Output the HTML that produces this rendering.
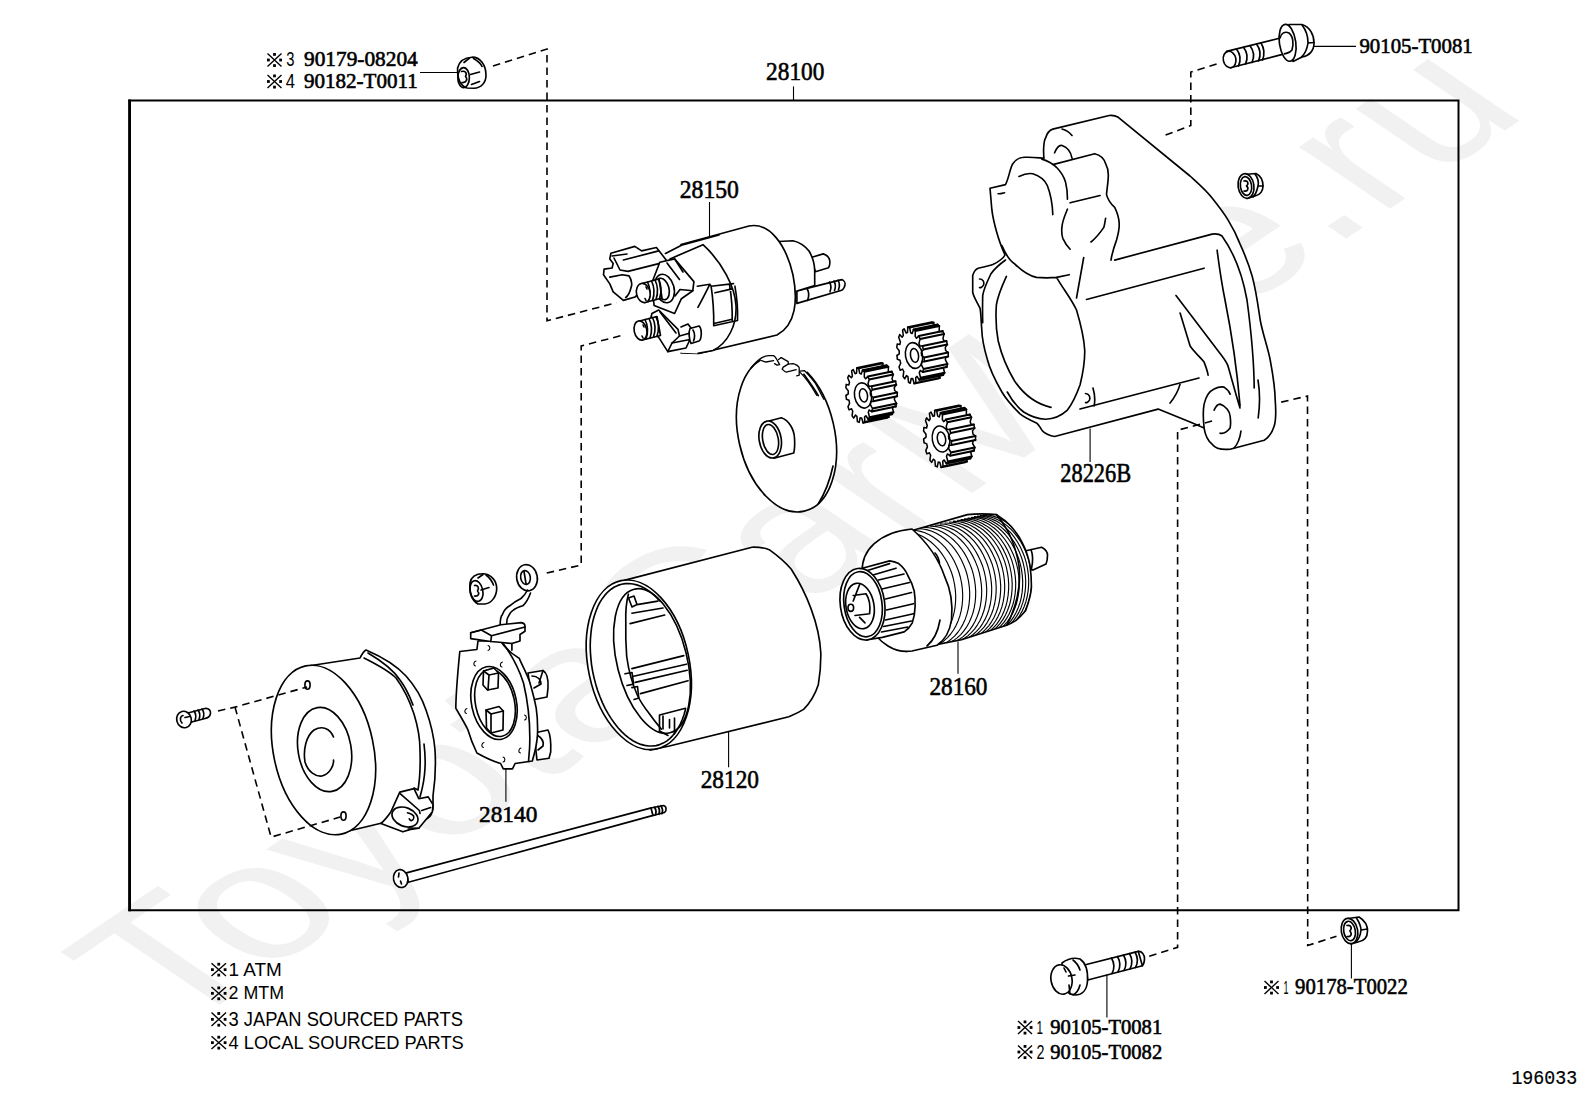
<!DOCTYPE html>
<html><head><meta charset="utf-8"><style>
html,body{margin:0;padding:0;background:#fff;width:1592px;height:1099px;overflow:hidden}
svg{display:block}
.l{fill:none;stroke:#000;stroke-width:1.65;stroke-linejoin:round;stroke-linecap:round}
.w{fill:#fff;stroke:#000;stroke-width:1.65;stroke-linejoin:round;stroke-linecap:round}
.d{fill:none;stroke:#000;stroke-width:1.6;stroke-dasharray:7.5 5}
.t{fill:none;stroke:#000;stroke-width:1.1}
</style></head><body>
<svg width="1592" height="1099" viewBox="0 0 1592 1099">
<text x="0" y="0" transform="translate(175,1035) scale(1,0.68) rotate(-45)" font-family="Liberation Sans" font-size="243" fill="#f1f1f1">ToyotaCarMine.ru</text>
<path d="M129.6 99.5V911.3M128.3 100.5H1458.5V910.3H128.3" fill="none" stroke="#000" stroke-width="2"/><path d="M129.6 99.5V911.3" stroke="#000" stroke-width="2.8"/>
<!-- 10_fasteners.svg -->
<g id="fasteners">
<!-- top-left nut -->
<path class="w" d="M457.6 68 C459 62 464 57.6 472 57.2 C480 57 486 65 486 75 C486 83 481 88 474 88.2 L467 88 C461 86 457.2 79 457.6 68Z"/>
<ellipse class="l" cx="463.6" cy="77.6" rx="5.8" ry="10"/>
<path class="l" d="M461.5 71.5 C465 70.5 467.5 73 465.5 76.5 C468 79 466.5 83 462 82.5 M470.5 74.5 L479.5 72 M464 62.5 L469.5 58 M473.5 58.5 C478 61 480.5 63 482 66.5 M471.5 84.5 L479.5 81.5"/>
<!-- top-right bolt -->
<path class="w" d="M1226.6 51.4 L1279.4 38.2 L1284.4 53.9 L1230.4 67.7 Z"/>
<ellipse class="w" cx="1229.6" cy="59.5" rx="6.3" ry="8.3" transform="rotate(-12 1229.6 59.5)"/>
<path class="l" d="M1236.5 49 Q1242.5 57 1238.5 66 M1243.5 47.3 Q1249.5 55 1245.5 64 M1250 45.7 Q1256 53.5 1252 62.5 M1256.5 44 Q1262.5 52 1258.5 61 M1261 43 Q1266 51 1262.5 60"/>
<path class="w" d="M1289 24.5 L1302 24.5 C1310 27 1314 35 1314 43 C1314 51 1309 56 1302 57 L1293 61.5 Z"/>
<ellipse class="w" cx="1287.6" cy="42.8" rx="8.2" ry="18.6" transform="rotate(-8 1287.6 42.8)"/>
<path class="l" d="M1280 38 C1281 33 1285 31 1289 33 C1293 36 1294 44 1292 50 C1290 53 1287 53 1284.4 53.9 M1302 25 C1306 30 1308 36 1308 43 L1314 42.5 M1308 43 C1307 50 1305 54 1301 57.5"/>
<!-- housing small nut -->
<path class="w" d="M1244 174.5 L1256 173.5 C1261 176 1263 181 1263 186 C1263 191 1260 195 1255 196 L1247 198.5 Z"/>
<ellipse class="w" cx="1246" cy="186" rx="7.9" ry="12.4" transform="rotate(-8 1246 186)"/>
<ellipse class="l" cx="1246" cy="186" rx="5.6" ry="9.4" transform="rotate(-8 1246 186)"/>
<path class="l" d="M1244 181 C1248 180 1249 184 1246.5 186 C1249 188 1248 192 1244 191 M1255 174 C1258 178 1259 182 1258 186 L1263 186 M1258 186 C1257 191 1256 194 1253 197"/>
<!-- brush-holder nut -->
<path class="w" d="M470 583 C471 577 476 573.7 483 573.7 C490 573.7 496.5 580 496.7 588 C496.8 596 492 603 485 604 L478 604 C473 601 469 594 470 583Z"/>
<ellipse class="l" cx="476.5" cy="591" rx="6.3" ry="10.5" transform="rotate(-12 476.5 591)"/>
<path class="l" d="M474.5 585.5 C478 585 479.5 588 477.5 591 C480 593.5 478.5 596.5 474.5 596 M481 590 L489 587.5 M478 578 L483 574.5 M486 575 C490 578 492 581 493.5 585"/>
<!-- ring terminal -->
<ellipse class="w" cx="527" cy="577.7" rx="10.3" ry="13.2" transform="rotate(-10 527 577.7)"/>
<ellipse class="l" cx="525.5" cy="577.5" rx="4.8" ry="7" transform="rotate(-10 525.5 577.5)"/>
<path class="l" d="M524 571.5 L526 583.5"/>
<!-- bottom bolt -->
<path class="w" d="M1084.4 965 L1138.3 951.4 L1142.4 965.7 L1087.8 980 Z"/>
<path class="l" d="M1111.5 958 Q1116 966 1112 973.5 M1117.5 956.5 Q1122 964.5 1118 972 M1123.5 955 Q1128 963 1124 970.5 M1129.5 953.5 Q1134 961.5 1130 969 M1135 952 Q1139.5 960 1135.5 967.5"/>
<path class="l" d="M1138.3 951.4 C1142 951 1144.5 955 1144.5 958.5 C1144.5 962 1143.5 964.5 1142.4 965.7"/>
<path class="w" d="M1062 963 C1068 958.5 1075 957.5 1080 959 C1086 963 1088 972 1087.5 981 C1087 989 1083 995 1075 995 C1069 995 1064 990 1062 985 Z"/>
<ellipse class="w" cx="1061.5" cy="979.5" rx="10.5" ry="14.8" transform="rotate(-10 1061.5 979.5)"/>
<path class="l" d="M1064 968 L1066 972 M1068.5 976 L1075 975 M1069 985 L1070 994 M1073 960 C1077 963 1079 967 1080 970 M1080 985 C1079 989 1077 993 1073 995"/>
<!-- bottom-right nut -->
<path class="w" d="M1348 918.5 L1359 917 C1364 920 1367.5 925 1367.5 931 C1367.5 937 1364 941 1358 942 L1351 944 Z"/>
<ellipse class="w" cx="1349.5" cy="931" rx="8.2" ry="12.8" transform="rotate(-10 1349.5 931)"/>
<ellipse class="l" cx="1349.5" cy="931" rx="5.8" ry="9.8" transform="rotate(-10 1349.5 931)"/>
<path class="l" d="M1347 925.5 C1351 924.5 1352.5 928.5 1349.8 931 C1352.5 933.5 1351 937.5 1347 936.5 M1356.5 918 C1359 922 1361 926 1361 930 L1367.5 929 M1361 930 C1360.5 935 1359 939 1356 942"/>
<!-- end-frame screw -->
<path class="w" d="M186 713.5 L205 708.5 C209 708 211 711 210.5 713.5 C210 716 208 718 205 718.5 L188 723 Z"/>
<path class="l" d="M194 711 Q197 715 195 720.5 M198 710 Q201 714 199 719.5 M202 709 Q205 713 203 718.5"/>
<ellipse class="w" cx="184" cy="719.5" rx="7.3" ry="8.3" transform="rotate(-15 184 719.5)"/>
<path class="l" d="M183 715.5 C180 716 179.5 721 182 723 M185 717.5 L189.5 716.5"/>
<!-- through bolt -->
<path class="w" d="M406.4 872.9 L651.3 807.9 L653.2 815.4 L408.3 882.3 Z"/>
<path class="w" d="M651 808 L663.5 805.5 C666.5 806 667 811 664.5 812.5 L653 815.5 Z"/>
<path class="l" d="M654.5 807 Q657 811 655.5 815 M658 806.3 Q660.5 810.3 659 814.3 M661 805.7 Q663.5 809.7 662 813.7"/>
<ellipse class="w" cx="400.7" cy="878.6" rx="7.2" ry="9" transform="rotate(-12 400.7 878.6)"/>
<path class="l" d="M399 873 L398.5 877 M400.5 881 L401.5 884"/>
</g>

<!-- 20_solenoid.svg -->
<g id="solenoid">
<!-- rod -->
<path class="w" d="M796.9 290.9 L841.7 279.6 C844 280.5 845.5 283 845 284.9 C844.5 287.5 843 289.5 841.7 290.2 L796.9 303.4 Z"/>
<path class="l" d="M829.5 282 Q832 286.5 830 291.8 M834 281 Q836.5 285.5 834.5 290.5 M838 280.2 Q840.5 284.7 838.5 289.7 M807 288.5 C809 292 809 297 807.5 300.5"/>
<!-- stud -->
<path class="w" d="M811 257.5 L823.2 253.9 C827 255 829.5 258 829.8 261.2 C830 264 829.5 266.5 828.5 267.8 L815.3 271.7 Z"/>
<!-- rear small cylinder -->
<path class="w" d="M779 241.5 L792.9 240.7 C799 242 805 246 809 251 C812 256 814.5 264 814.7 270.4 L814.7 285.5 L797 291 L779 292 Z"/>
<!-- main body -->
<path class="w" d="M681 244.5 L749 226 C769 222 786 244 793 275 C798 300 796 325 777 335 L699 353.5 L681 353 Z"/>
<!-- front cap silhouette -->
<path class="w" d="M665 253.5 L681.5 245.5 L703 244.5 C722 262 735 287 736 305.5 C737 325 728 343 712 350.5 L697.5 353.5 L666 352 Z" style="stroke:none"/>
<path class="l" d="M665.5 253.5 L681.5 245.2 L719 235 M670 258.9 L703 244.7 C722 262 735 287 736 305.5 C737 325 728 343 713 350.5 L698 353.3"/>
<!-- bracket band -->
<path class="l" d="M697.3 286.2 L709.8 284.3 L711.1 286.2 L733.5 283.6 M711.1 286.2 C713 299 714 312 713.7 325.8 L737.5 320.5 M729.6 285 C731.5 297 732.5 309 732.2 320.5 M734.9 286.2 C737 298 738 309 737.5 320.5 M715 292.8 L732.2 288.9 M715 323.2 L732.2 319.2 M709.8 284.3 C706 292 702 300 697.9 307.3"/>
<!-- connector block -->
<path class="w" d="M610.9 253.2 L634.8 246.4 L641.6 250.9 L656.4 247.5 L664.4 257.7 L670 265 L652 283 L635 297 L623.4 300.4 L613.2 291.9 L609.8 283.9 L603.5 274.8 L604.1 269.1 L612.1 268 L613.2 263.4 L609.8 258.9 Z"/>
<path class="l" d="M623.4 260 L658.7 250.9 M628 271.4 L659.8 263.4 M609.8 277.1 L622.3 274.8 L629.1 275.9 C632 280 632 286 631.4 286.2 C630 292 628 296 625.7 297.5 M614 258 L620 270 L628 271.4 M612 256 L627 254"/>
<!-- upper hex nut & washer -->
<path class="w" d="M659.8 262.3 L674.6 258.9 L693.9 281.6 L692.8 290.7 L681.4 298.7 L674.6 313.5 L654.1 305.5 L651.9 282.8 Z"/>
<path class="l" d="M667 263 L679.5 279.5 M674.6 258.9 L683 272 M692.8 290.7 L680 289.5 L675 296"/>
<ellipse class="w" cx="664.5" cy="288.5" rx="9.5" ry="14.5" transform="rotate(-15 664.5 288.5)"/>
<ellipse class="l" cx="662.5" cy="289" rx="6.5" ry="11" transform="rotate(-15 662.5 289)"/>
<!-- upper stud -->
<path class="w" d="M642 283.5 L659 279 L662 298 L645 302.5 Z"/>
<path class="l" d="M651.5 281 Q656 290 652.5 300.5 M655 280 Q659.5 289 656 299.5 M658.5 279.2 Q663 288.2 659.5 298.7 M647.5 282 Q652 291 648.5 301.5"/>
<ellipse class="w" cx="643.3" cy="293" rx="6.8" ry="9.7" transform="rotate(-12 643.3 293)"/>
<path class="l" d="M646 287 L647 289 M645 298.5 L646 300.5"/>
<!-- lower hex nut -->
<path class="w" d="M651.9 313.5 L658.7 310 L678 329.4 L679.5 336 L672 343 L667.8 351.6 L658.7 337.4 L649 326 Z"/>
<path class="l" d="M660 312 L676 333 M667.8 351.6 L686 348 M672 343 L690 339.5 M679.5 336 L694 332 M686 348 L690 339.5 L694 332 L688 324 L681 327"/>
<path class="w" d="M690 328.5 L699 326 C702 328 702 339 699 341 L691 343.5 C689 339 688.5 332 690 328.5 Z"/>
<path class="l" d="M693 330 C695 333 695 338 693.5 341"/>
<!-- lower stud -->
<path class="w" d="M639.5 321 L657 316.5 L660.5 335.5 L642.5 340 Z"/>
<path class="l" d="M649 318.5 Q653.5 327.5 650 338 M652.5 317.5 Q657 326.5 653.5 337 M656 316.8 Q660.5 325.8 657 336.3 M645 319.5 Q649.5 328.5 646 339"/>
<ellipse class="w" cx="640.5" cy="330.5" rx="6.3" ry="9.7" transform="rotate(-12 640.5 330.5)"/>
<path class="l" d="M643 325 L644 327 M642 336 L643 338"/>
</g>

<!-- 30_disc.svg -->
<g id="disc">
<ellipse class="w" cx="786.5" cy="434.2" rx="48" ry="79" transform="rotate(-13 786.5 434.2)"/>
<path class="l" d="M801.5 371 C808 380 814 388 818.3 395.7 M833 466 C830 480 825 493 818.3 503.8"/>
<path fill="#fff" d="M756 350 L808 350 L808 371 L799.5 376 L796.5 370 L786 373 L781.5 369 L783 366.5 L788.5 364.3 L788.5 361.5 L781 357 L778.5 359.5 L780 365 L774.5 364 L773.6 361 L766 362.5 L760 360.5 Z"/>
<path class="l" style="stroke-width:1.3" d="M751 367.8 C755 363 758 360 762 357.6 C765 356 767 355.6 768.6 355.6 L773.6 355.6 C776 357 777 360 778 361.6 L779.6 364.6 L777 365.1 L774.6 363.6
M760 360 C763 361 765 362 766 362 L773.6 360.6
M778.6 359.6 L781.2 357.6 L788.2 361.6 L788.2 364.1 L783.2 367.1 L782.2 369.1 C784 371 785 372 786.2 372.1 L790.2 371.1 L796.2 369.6
M788.2 364.1 L793.2 363.6 C795 364 796 365 796.7 365.1 C798 366 799 367 799.2 367.6 L799.2 375.2 L796.7 375.9
M800.3 371.1 L804.3 370.6 C808 374 812 379 815.3 383.2 C818 388 821 394 823.9 399.3
M800.3 372.6 C806 378 812 387 816.8 395.3"/>
<!-- bushing -->
<path class="w" d="M769 421 L781.4 417.8 C788 420 794 428 794.5 438 C795 446 794.5 450 793.7 453 L774 458.2 Z"/>
<ellipse class="w" cx="770.2" cy="439.5" rx="11" ry="18.7" transform="rotate(-10 770.2 439.5)"/>
<ellipse class="l" cx="770.5" cy="439.5" rx="7.8" ry="15.2" transform="rotate(-10 770.5 439.5)"/>
</g>

<!-- 35_gears.svg -->
<g id="gears">
<path class="w" style="stroke-width:1.55" d="M894.5 389.3 L894.6 390.5 L897.2 392.5 L897.2 396.2 L894.7 396.8 L894.5 398.6 L894.4 399.6 L896.5 403.5 L895.8 406.6 L893.1 405.0 L892.6 406.4 L892.3 407.2 L893.5 412.2 L892.2 414.2 L889.9 410.7 L889.1 411.5 L888.6 411.8 L888.8 417.1 L887.1 417.7 L885.6 412.9 L884.7 412.9 L884.1 412.8 L883.2 417.4 L881.4 416.6 L880.9 411.3 L880.0 410.5 L879.5 410.0 L877.7 413.1 L876.1 410.9 L876.7 406.0 L876.0 404.6 L875.6 403.7 L873.1 404.9 L872.0 401.7 L873.6 398.1 L873.2 396.3 L873.0 395.2 L870.4 394.2 L869.9 390.5 L872.3 388.8 L872.2 387.0 L872.3 385.9 L869.9 382.8 L870.2 379.4 L872.9 379.9 L873.2 378.3 L873.5 377.3 L871.7 372.8 L872.8 370.2 L875.3 372.7 L876.0 371.7 L876.4 371.1 L875.6 365.8 L877.2 364.5 L879.1 368.7 L880.0 368.3 L880.5 368.2 L880.9 363.1 L882.7 363.3 L883.7 368.4 L884.7 368.8 L885.2 369.1 L886.6 365.2 L888.4 366.8 L888.3 371.9 L889.1 373.1 L889.6 373.8 L891.8 371.6 L893.2 374.4 L892.0 378.7 L892.6 380.3 L892.9 381.3 L895.5 381.2 L896.3 384.8 L894.3 387.5Z"/>
<path fill="#fff" d="M892.8 389.7 L892.9 390.8 L895.5 392.9 L895.5 396.5 L893.0 397.1 L892.8 398.9 L892.7 400.0 L894.8 403.8 L894.0 406.9 L891.4 405.4 L890.9 406.7 L890.6 407.5 L891.8 412.5 L890.5 414.6 L888.2 411.1 L887.4 411.8 L886.9 412.2 L887.1 417.5 L885.4 418.1 L883.9 413.3 L883.0 413.3 L882.4 413.2 L881.5 417.8 L879.7 416.9 L879.2 411.6 L878.3 410.9 L877.8 410.3 L876.0 413.5 L874.3 411.2 L875.0 406.4 L874.3 405.0 L873.9 404.1 L871.4 405.3 L870.3 402.0 L871.9 398.4 L871.5 396.7 L871.3 395.6 L868.6 394.6 L868.2 390.9 L870.6 389.2 L870.5 387.3 L870.5 386.2 L868.2 383.2 L868.5 379.8 L871.1 380.2 L871.5 378.6 L871.7 377.7 L870.0 373.2 L871.1 370.5 L873.6 373.1 L874.2 372.0 L874.7 371.4 L873.9 366.2 L875.5 364.8 L877.4 369.0 L878.3 368.7 L878.8 368.5 L879.2 363.5 L881.0 363.6 L882.0 368.8 L882.9 369.2 L883.5 369.5 L884.9 365.5 L886.7 367.1 L886.6 372.3 L887.4 373.4 L887.9 374.1 L890.1 371.9 L891.5 374.7 L890.3 379.0 L890.9 380.7 L891.2 381.7 L893.8 381.6 L894.6 385.1 L892.6 387.8Z"/>
<path fill="#fff" d="M891.1 390.1 L891.2 391.2 L893.8 393.2 L893.8 396.9 L891.2 397.5 L891.1 399.3 L891.0 400.3 L893.0 404.2 L892.3 407.3 L889.7 405.7 L889.2 407.1 L888.8 407.9 L890.1 412.9 L888.8 414.9 L886.5 411.4 L885.7 412.2 L885.2 412.6 L885.4 417.8 L883.7 418.4 L882.2 413.7 L881.3 413.6 L880.7 413.6 L879.8 418.2 L878.0 417.3 L877.5 412.0 L876.6 411.2 L876.1 410.7 L874.2 413.9 L872.6 411.6 L873.3 406.7 L872.6 405.3 L872.1 404.4 L869.7 405.6 L868.6 402.4 L870.2 398.8 L869.8 397.0 L869.6 395.9 L866.9 394.9 L866.5 391.2 L868.9 389.6 L868.8 387.7 L868.8 386.6 L866.4 383.6 L866.8 380.1 L869.4 380.6 L869.8 379.0 L870.0 378.0 L868.3 373.5 L869.4 370.9 L871.9 373.5 L872.5 372.4 L873.0 371.8 L872.2 366.5 L873.8 365.2 L875.7 369.4 L876.6 369.0 L877.1 368.9 L877.5 363.8 L879.3 364.0 L880.3 369.1 L881.2 369.5 L881.8 369.8 L883.2 365.9 L884.9 367.5 L884.9 372.7 L885.7 373.8 L886.2 374.5 L888.4 372.3 L889.7 375.1 L888.6 379.4 L889.2 381.0 L889.5 382.1 L892.1 382.0 L892.9 385.5 L890.8 388.2Z"/>
<path fill="#fff" d="M889.4 390.4 L889.5 391.5 L892.0 393.6 L892.1 397.2 L889.5 397.9 L889.4 399.6 L889.2 400.7 L891.3 404.5 L890.6 407.6 L888.0 406.1 L887.5 407.5 L887.1 408.2 L888.4 413.2 L887.0 415.3 L884.8 411.8 L884.0 412.5 L883.5 412.9 L883.7 418.2 L882.0 418.8 L880.5 414.0 L879.6 414.0 L879.0 413.9 L878.1 418.5 L876.3 417.6 L875.8 412.4 L874.9 411.6 L874.4 411.0 L872.5 414.2 L870.9 411.9 L871.6 407.1 L870.8 405.7 L870.4 404.8 L868.0 406.0 L866.9 402.7 L868.5 399.2 L868.1 397.4 L867.9 396.3 L865.2 395.3 L864.8 391.6 L867.1 389.9 L867.1 388.0 L867.1 386.9 L864.7 383.9 L865.1 380.5 L867.7 380.9 L868.1 379.3 L868.3 378.4 L866.6 373.9 L867.7 371.2 L870.1 373.8 L870.8 372.7 L871.2 372.1 L870.5 366.9 L872.1 365.5 L874.0 369.8 L874.9 369.4 L875.4 369.2 L875.8 364.2 L877.6 364.3 L878.6 369.5 L879.5 369.9 L880.1 370.2 L881.5 366.2 L883.2 367.8 L883.1 373.0 L884.0 374.1 L884.5 374.9 L886.6 372.6 L888.0 375.4 L886.9 379.8 L887.5 381.4 L887.8 382.4 L890.4 382.3 L891.2 385.8 L889.1 388.5Z"/>
<path fill="#fff" d="M887.7 390.8 L887.8 391.9 L890.3 394.0 L890.4 397.6 L887.8 398.2 L887.7 400.0 L887.5 401.0 L889.6 404.9 L888.9 408.0 L886.3 406.4 L885.8 407.8 L885.4 408.6 L886.7 413.6 L885.3 415.6 L883.1 412.2 L882.3 412.9 L881.8 413.3 L882.0 418.5 L880.2 419.2 L878.8 414.4 L877.8 414.4 L877.3 414.3 L876.4 418.9 L874.5 418.0 L874.1 412.7 L873.2 411.9 L872.6 411.4 L870.8 414.6 L869.2 412.3 L869.8 407.5 L869.1 406.0 L868.7 405.2 L866.3 406.3 L865.2 403.1 L866.8 399.5 L866.4 397.7 L866.1 396.6 L863.5 395.6 L863.1 392.0 L865.4 390.3 L865.4 388.4 L865.4 387.3 L863.0 384.3 L863.4 380.8 L866.0 381.3 L866.4 379.7 L866.6 378.8 L864.9 374.2 L865.9 371.6 L868.4 374.2 L869.1 373.1 L869.5 372.5 L868.8 367.3 L870.4 365.9 L872.3 370.1 L873.1 369.7 L873.7 369.6 L874.1 364.6 L875.9 364.7 L876.9 369.8 L877.8 370.2 L878.4 370.6 L879.8 366.6 L881.5 368.2 L881.4 373.4 L882.3 374.5 L882.7 375.2 L884.9 373.0 L886.3 375.8 L885.2 380.1 L885.7 381.7 L886.1 382.8 L888.7 382.7 L889.4 386.2 L887.4 388.9Z"/>
<path fill="#fff" d="M885.9 391.1 L886.0 392.3 L888.6 394.3 L888.6 397.9 L886.1 398.6 L885.9 400.4 L885.8 401.4 L887.9 405.2 L887.2 408.4 L884.6 406.8 L884.0 408.2 L883.7 409.0 L885.0 413.9 L883.6 416.0 L881.4 412.5 L880.6 413.3 L880.1 413.6 L880.3 418.9 L878.5 419.5 L877.1 414.7 L876.1 414.7 L875.6 414.6 L874.7 419.2 L872.8 418.3 L872.4 413.1 L871.5 412.3 L870.9 411.7 L869.1 414.9 L867.5 412.7 L868.1 407.8 L867.4 406.4 L867.0 405.5 L864.5 406.7 L863.4 403.5 L865.1 399.9 L864.6 398.1 L864.4 397.0 L861.8 396.0 L861.4 392.3 L863.7 390.6 L863.7 388.8 L863.7 387.6 L861.3 384.6 L861.7 381.2 L864.3 381.7 L864.6 380.0 L864.9 379.1 L863.2 374.6 L864.2 372.0 L866.7 374.5 L867.4 373.4 L867.8 372.9 L867.1 367.6 L868.7 366.3 L870.6 370.5 L871.4 370.1 L872.0 370.0 L872.3 364.9 L874.2 365.0 L875.1 370.2 L876.1 370.6 L876.7 370.9 L878.0 366.9 L879.8 368.6 L879.7 373.7 L880.5 374.8 L881.0 375.6 L883.2 373.3 L884.6 376.2 L883.4 380.5 L884.0 382.1 L884.3 383.1 L887.0 383.0 L887.7 386.6 L885.7 389.3Z"/>
<path fill="#fff" d="M884.2 391.5 L884.3 392.6 L886.9 394.7 L886.9 398.3 L884.4 398.9 L884.2 400.7 L884.1 401.8 L886.2 405.6 L885.5 408.7 L882.9 407.2 L882.3 408.5 L882.0 409.3 L883.2 414.3 L881.9 416.3 L879.7 412.9 L878.9 413.6 L878.4 414.0 L878.6 419.2 L876.8 419.9 L875.3 415.1 L874.4 415.1 L873.8 415.0 L872.9 419.6 L871.1 418.7 L870.7 413.4 L869.8 412.6 L869.2 412.1 L867.4 415.3 L865.8 413.0 L866.4 408.2 L865.7 406.8 L865.3 405.9 L862.8 407.1 L861.7 403.8 L863.4 400.2 L862.9 398.4 L862.7 397.3 L860.1 396.3 L859.7 392.7 L862.0 391.0 L862.0 389.1 L862.0 388.0 L859.6 385.0 L859.9 381.5 L862.6 382.0 L862.9 380.4 L863.2 379.5 L861.5 374.9 L862.5 372.3 L865.0 374.9 L865.7 373.8 L866.1 373.2 L865.4 368.0 L866.9 366.6 L868.8 370.8 L869.7 370.5 L870.3 370.3 L870.6 365.3 L872.4 365.4 L873.4 370.5 L874.4 371.0 L874.9 371.3 L876.3 367.3 L878.1 368.9 L878.0 374.1 L878.8 375.2 L879.3 375.9 L881.5 373.7 L882.9 376.5 L881.7 380.8 L882.3 382.5 L882.6 383.5 L885.2 383.4 L886.0 386.9 L884.0 389.6Z"/>
<path fill="#fff" d="M882.5 391.8 L882.6 393.0 L885.2 395.0 L885.2 398.7 L882.7 399.3 L882.5 401.1 L882.4 402.1 L884.5 406.0 L883.8 409.1 L881.1 407.5 L880.6 408.9 L880.3 409.7 L881.5 414.7 L880.2 416.7 L877.9 413.2 L877.1 414.0 L876.6 414.3 L876.8 419.6 L875.1 420.2 L873.6 415.4 L872.7 415.4 L872.1 415.3 L871.2 419.9 L869.4 419.1 L868.9 413.8 L868.0 413.0 L867.5 412.5 L865.7 415.6 L864.1 413.4 L864.7 408.5 L864.0 407.1 L863.6 406.2 L861.1 407.4 L860.0 404.2 L861.6 400.6 L861.2 398.8 L861.0 397.7 L858.4 396.7 L857.9 393.0 L860.3 391.3 L860.2 389.5 L860.3 388.4 L857.9 385.3 L858.2 381.9 L860.9 382.4 L861.2 380.8 L861.5 379.8 L859.7 375.3 L860.8 372.7 L863.3 375.2 L864.0 374.2 L864.4 373.6 L863.6 368.3 L865.2 367.0 L867.1 371.2 L868.0 370.8 L868.5 370.7 L868.9 365.6 L870.7 365.8 L871.7 370.9 L872.7 371.3 L873.2 371.6 L874.6 367.7 L876.4 369.3 L876.3 374.4 L877.1 375.6 L877.6 376.3 L879.8 374.1 L881.2 376.9 L880.0 381.2 L880.6 382.8 L880.9 383.8 L883.5 383.7 L884.3 387.3 L882.3 390.0Z"/>
<path fill="#fff" d="M880.8 392.2 L880.9 393.3 L883.5 395.4 L883.5 399.0 L881.0 399.6 L880.8 401.4 L880.7 402.5 L882.8 406.3 L882.0 409.4 L879.4 407.9 L878.9 409.2 L878.6 410.0 L879.8 415.0 L878.5 417.1 L876.2 413.6 L875.4 414.3 L874.9 414.7 L875.1 420.0 L873.4 420.6 L871.9 415.8 L871.0 415.8 L870.4 415.7 L869.5 420.3 L867.7 419.4 L867.2 414.1 L866.3 413.4 L865.8 412.8 L864.0 416.0 L862.3 413.7 L863.0 408.9 L862.3 407.5 L861.9 406.6 L859.4 407.8 L858.3 404.5 L859.9 400.9 L859.5 399.2 L859.3 398.1 L856.6 397.1 L856.2 393.4 L858.6 391.7 L858.5 389.8 L858.5 388.7 L856.2 385.7 L856.5 382.3 L859.1 382.7 L859.5 381.1 L859.7 380.2 L858.0 375.7 L859.1 373.0 L861.6 375.6 L862.2 374.5 L862.7 373.9 L861.9 368.7 L863.5 367.3 L865.4 371.5 L866.3 371.2 L866.8 371.0 L867.2 366.0 L869.0 366.1 L870.0 371.3 L870.9 371.7 L871.5 372.0 L872.9 368.0 L874.7 369.6 L874.6 374.8 L875.4 375.9 L875.9 376.6 L878.1 374.4 L879.5 377.2 L878.3 381.5 L878.9 383.2 L879.2 384.2 L881.8 384.1 L882.6 387.6 L880.6 390.3Z"/>
<path fill="#fff" d="M879.1 392.6 L879.2 393.7 L881.8 395.7 L881.8 399.4 L879.2 400.0 L879.1 401.8 L879.0 402.8 L881.0 406.7 L880.3 409.8 L877.7 408.2 L877.2 409.6 L876.8 410.4 L878.1 415.4 L876.8 417.4 L874.5 413.9 L873.7 414.7 L873.2 415.1 L873.4 420.3 L871.7 420.9 L870.2 416.2 L869.3 416.1 L868.7 416.1 L867.8 420.7 L866.0 419.8 L865.5 414.5 L864.6 413.7 L864.1 413.2 L862.2 416.4 L860.6 414.1 L861.3 409.2 L860.6 407.8 L860.1 406.9 L857.7 408.1 L856.6 404.9 L858.2 401.3 L857.8 399.5 L857.6 398.4 L854.9 397.4 L854.5 393.7 L856.9 392.1 L856.8 390.2 L856.8 389.1 L854.4 386.1 L854.8 382.6 L857.4 383.1 L857.8 381.5 L858.0 380.5 L856.3 376.0 L857.4 373.4 L859.9 376.0 L860.5 374.9 L861.0 374.3 L860.2 369.0 L861.8 367.7 L863.7 371.9 L864.6 371.5 L865.1 371.4 L865.5 366.3 L867.3 366.5 L868.3 371.6 L869.2 372.0 L869.8 372.3 L871.2 368.4 L872.9 370.0 L872.9 375.2 L873.7 376.3 L874.2 377.0 L876.4 374.8 L877.7 377.6 L876.6 381.9 L877.2 383.5 L877.5 384.6 L880.1 384.5 L880.9 388.0 L878.8 390.7Z"/>
<path fill="#fff" d="M877.4 392.9 L877.5 394.0 L880.0 396.1 L880.1 399.7 L877.5 400.4 L877.4 402.1 L877.2 403.2 L879.3 407.0 L878.6 410.1 L876.0 408.6 L875.5 410.0 L875.1 410.7 L876.4 415.7 L875.0 417.8 L872.8 414.3 L872.0 415.0 L871.5 415.4 L871.7 420.7 L870.0 421.3 L868.5 416.5 L867.6 416.5 L867.0 416.4 L866.1 421.0 L864.3 420.1 L863.8 414.9 L862.9 414.1 L862.4 413.5 L860.5 416.7 L858.9 414.4 L859.6 409.6 L858.8 408.2 L858.4 407.3 L856.0 408.5 L854.9 405.2 L856.5 401.7 L856.1 399.9 L855.9 398.8 L853.2 397.8 L852.8 394.1 L855.1 392.4 L855.1 390.5 L855.1 389.4 L852.7 386.4 L853.1 383.0 L855.7 383.4 L856.1 381.8 L856.3 380.9 L854.6 376.4 L855.7 373.7 L858.1 376.3 L858.8 375.2 L859.2 374.6 L858.5 369.4 L860.1 368.0 L862.0 372.3 L862.9 371.9 L863.4 371.7 L863.8 366.7 L865.6 366.8 L866.6 372.0 L867.5 372.4 L868.1 372.7 L869.5 368.7 L871.2 370.3 L871.1 375.5 L872.0 376.6 L872.5 377.4 L874.6 375.1 L876.0 377.9 L874.9 382.3 L875.5 383.9 L875.8 384.9 L878.4 384.8 L879.2 388.3 L877.1 391.0Z"/>
<path fill="#fff" d="M875.7 393.3 L875.8 394.4 L878.3 396.5 L878.4 400.1 L875.8 400.7 L875.7 402.5 L875.5 403.5 L877.6 407.4 L876.9 410.5 L874.3 408.9 L873.8 410.3 L873.4 411.1 L874.7 416.1 L873.3 418.1 L871.1 414.7 L870.3 415.4 L869.8 415.8 L870.0 421.0 L868.2 421.7 L866.8 416.9 L865.8 416.9 L865.3 416.8 L864.4 421.4 L862.5 420.5 L862.1 415.2 L861.2 414.4 L860.6 413.9 L858.8 417.1 L857.2 414.8 L857.8 410.0 L857.1 408.5 L856.7 407.7 L854.3 408.8 L853.2 405.6 L854.8 402.0 L854.4 400.2 L854.1 399.1 L851.5 398.1 L851.1 394.5 L853.4 392.8 L853.4 390.9 L853.4 389.8 L851.0 386.8 L851.4 383.3 L854.0 383.8 L854.4 382.2 L854.6 381.3 L852.9 376.7 L853.9 374.1 L856.4 376.7 L857.1 375.6 L857.5 375.0 L856.8 369.8 L858.4 368.4 L860.3 372.6 L861.1 372.2 L861.7 372.1 L862.1 367.1 L863.9 367.2 L864.9 372.3 L865.8 372.7 L866.4 373.1 L867.8 369.1 L869.5 370.7 L869.4 375.9 L870.3 377.0 L870.7 377.7 L872.9 375.5 L874.3 378.3 L873.2 382.6 L873.7 384.2 L874.1 385.3 L876.7 385.2 L877.4 388.7 L875.4 391.4Z"/>
<path fill="#fff" d="M873.9 393.6 L874.0 394.8 L876.6 396.8 L876.6 400.4 L874.1 401.1 L873.9 402.9 L873.8 403.9 L875.9 407.7 L875.2 410.9 L872.6 409.3 L872.0 410.7 L871.7 411.5 L873.0 416.4 L871.6 418.5 L869.4 415.0 L868.6 415.8 L868.1 416.1 L868.3 421.4 L866.5 422.0 L865.1 417.2 L864.1 417.2 L863.6 417.1 L862.7 421.7 L860.8 420.8 L860.4 415.6 L859.5 414.8 L858.9 414.2 L857.1 417.4 L855.5 415.2 L856.1 410.3 L855.4 408.9 L855.0 408.0 L852.5 409.2 L851.4 406.0 L853.1 402.4 L852.6 400.6 L852.4 399.5 L849.8 398.5 L849.4 394.8 L851.7 393.1 L851.7 391.3 L851.7 390.1 L849.3 387.1 L849.7 383.7 L852.3 384.2 L852.6 382.5 L852.9 381.6 L851.2 377.1 L852.2 374.5 L854.7 377.0 L855.4 375.9 L855.8 375.4 L855.1 370.1 L856.7 368.8 L858.6 373.0 L859.4 372.6 L860.0 372.5 L860.3 367.4 L862.2 367.5 L863.1 372.7 L864.1 373.1 L864.7 373.4 L866.0 369.4 L867.8 371.1 L867.7 376.2 L868.5 377.3 L869.0 378.1 L871.2 375.8 L872.6 378.7 L871.4 383.0 L872.0 384.6 L872.3 385.6 L875.0 385.5 L875.7 389.1 L873.7 391.8Z"/>
<path fill="#fff" d="M872.2 394.0 L872.3 395.1 L874.9 397.2 L874.9 400.8 L872.4 401.4 L872.2 403.2 L872.1 404.3 L874.2 408.1 L873.5 411.2 L870.9 409.7 L870.3 411.0 L870.0 411.8 L871.2 416.8 L869.9 418.8 L867.7 415.4 L866.9 416.1 L866.4 416.5 L866.6 421.7 L864.8 422.4 L863.3 417.6 L862.4 417.6 L861.8 417.5 L860.9 422.1 L859.1 421.2 L858.7 415.9 L857.8 415.1 L857.2 414.6 L855.4 417.8 L853.8 415.5 L854.4 410.7 L853.7 409.3 L853.3 408.4 L850.8 409.6 L849.7 406.3 L851.4 402.7 L850.9 400.9 L850.7 399.8 L848.1 398.8 L847.7 395.2 L850.0 393.5 L850.0 391.6 L850.0 390.5 L847.6 387.5 L847.9 384.0 L850.6 384.5 L850.9 382.9 L851.2 382.0 L849.5 377.4 L850.5 374.8 L853.0 377.4 L853.7 376.3 L854.1 375.7 L853.4 370.5 L854.9 369.1 L856.8 373.3 L857.7 373.0 L858.3 372.8 L858.6 367.8 L860.4 367.9 L861.4 373.0 L862.4 373.5 L862.9 373.8 L864.3 369.8 L866.1 371.4 L866.0 376.6 L866.8 377.7 L867.3 378.4 L869.5 376.2 L870.9 379.0 L869.7 383.3 L870.3 385.0 L870.6 386.0 L873.2 385.9 L874.0 389.4 L872.0 392.1Z"/>
<path class="l" style="stroke-width:2.0" d="M873.2 397.5L897.2 392.5M873.2 401.2L897.2 396.2M872.5 408.5L896.5 403.5M871.8 411.6L895.8 406.6M869.5 417.2L893.5 412.2M868.2 419.2L892.2 414.2M864.8 422.1L888.8 417.1M863.1 422.7L887.1 417.7M856.9 368.1L880.9 363.1M858.7 368.3L882.7 363.3M862.6 370.2L886.6 365.2M864.4 371.8L888.4 366.8M867.8 376.6L891.8 371.6M869.2 379.4L893.2 374.4M871.5 386.2L895.5 381.2M872.3 389.8L896.3 384.8"/>
<path class="w" style="stroke-width:1.55" d="M870.5 394.3 L870.6 395.5 L873.2 397.5 L873.2 401.2 L870.7 401.8 L870.5 403.6 L870.4 404.6 L872.5 408.5 L871.8 411.6 L869.1 410.0 L868.6 411.4 L868.3 412.2 L869.5 417.2 L868.2 419.2 L865.9 415.7 L865.1 416.5 L864.6 416.8 L864.8 422.1 L863.1 422.7 L861.6 417.9 L860.7 417.9 L860.1 417.8 L859.2 422.4 L857.4 421.6 L856.9 416.3 L856.0 415.5 L855.5 415.0 L853.7 418.1 L852.1 415.9 L852.7 411.0 L852.0 409.6 L851.6 408.7 L849.1 409.9 L848.0 406.7 L849.6 403.1 L849.2 401.3 L849.0 400.2 L846.4 399.2 L845.9 395.5 L848.3 393.8 L848.2 392.0 L848.3 390.9 L845.9 387.8 L846.2 384.4 L848.9 384.9 L849.2 383.3 L849.5 382.3 L847.7 377.8 L848.8 375.2 L851.3 377.7 L852.0 376.7 L852.4 376.1 L851.6 370.8 L853.2 369.5 L855.1 373.7 L856.0 373.3 L856.5 373.2 L856.9 368.1 L858.7 368.3 L859.7 373.4 L860.7 373.8 L861.2 374.1 L862.6 370.2 L864.4 371.8 L864.3 376.9 L865.1 378.1 L865.6 378.8 L867.8 376.6 L869.2 379.4 L868.0 383.7 L868.6 385.3 L868.9 386.3 L871.5 386.2 L872.3 389.8 L870.3 392.5Z"/>
<ellipse class="l" style="stroke-width:1.55" cx="863.0" cy="395.5"  rx="8.5" ry="12.7" transform="rotate(-10 863.0 395.5)"/>
<ellipse class="l" style="stroke-width:1.55" cx="863.5" cy="395.5"  rx="4.0" ry="6.7" transform="rotate(-10 863.0 395.5)"/>
<path class="w" style="stroke-width:1.55" d="M945.5 349.3 L945.6 350.5 L948.2 352.6 L948.2 356.4 L945.7 357.0 L945.5 358.8 L945.4 359.9 L947.5 363.9 L946.8 367.1 L944.2 365.5 L943.7 366.9 L943.3 367.7 L944.6 372.8 L943.3 374.9 L941.0 371.3 L940.2 372.1 L939.7 372.5 L939.9 377.9 L938.2 378.5 L936.7 373.6 L935.8 373.6 L935.2 373.5 L934.3 378.2 L932.5 377.3 L932.0 371.9 L931.1 371.1 L930.6 370.5 L928.7 373.8 L927.1 371.4 L927.8 366.5 L927.0 365.0 L926.6 364.1 L924.2 365.3 L923.0 362.0 L924.7 358.3 L924.2 356.4 L924.0 355.3 L921.4 354.3 L920.9 350.5 L923.3 348.8 L923.2 346.8 L923.2 345.7 L920.8 342.6 L921.2 339.0 L923.8 339.5 L924.2 337.9 L924.4 336.9 L922.7 332.3 L923.7 329.6 L926.2 332.2 L926.9 331.1 L927.3 330.5 L926.6 325.1 L928.1 323.7 L930.1 328.0 L930.9 327.7 L931.5 327.5 L931.8 322.3 L933.6 322.5 L934.7 327.8 L935.6 328.2 L936.2 328.5 L937.5 324.4 L939.3 326.1 L939.2 331.4 L940.1 332.6 L940.5 333.3 L942.7 331.0 L944.1 333.9 L943.0 338.4 L943.6 340.1 L943.9 341.1 L946.5 341.0 L947.3 344.6 L945.3 347.4Z"/>
<path fill="#fff" d="M943.8 349.7 L943.9 350.9 L946.5 353.0 L946.5 356.7 L944.0 357.4 L943.8 359.2 L943.7 360.3 L945.8 364.2 L945.1 367.4 L942.5 365.8 L942.0 367.2 L941.6 368.0 L942.9 373.2 L941.5 375.3 L939.3 371.7 L938.5 372.4 L938.0 372.8 L938.2 378.2 L936.5 378.9 L935.0 374.0 L934.0 373.9 L933.5 373.8 L932.6 378.6 L930.8 377.7 L930.3 372.2 L929.4 371.4 L928.8 370.9 L927.0 374.1 L925.4 371.8 L926.0 366.8 L925.3 365.4 L924.9 364.4 L922.4 365.7 L921.3 362.3 L922.9 358.6 L922.5 356.8 L922.3 355.7 L919.7 354.6 L919.2 350.9 L921.6 349.1 L921.5 347.2 L921.5 346.0 L919.1 342.9 L919.5 339.4 L922.1 339.9 L922.5 338.2 L922.7 337.3 L921.0 332.6 L922.0 329.9 L924.5 332.6 L925.2 331.4 L925.6 330.8 L924.9 325.5 L926.4 324.1 L928.3 328.4 L929.2 328.0 L929.8 327.9 L930.1 322.7 L931.9 322.8 L932.9 328.1 L933.9 328.6 L934.4 328.9 L935.8 324.8 L937.6 326.5 L937.5 331.8 L938.3 332.9 L938.8 333.7 L941.0 331.4 L942.4 334.3 L941.3 338.7 L941.9 340.4 L942.2 341.5 L944.8 341.4 L945.6 345.0 L943.6 347.8Z"/>
<path fill="#fff" d="M942.1 350.1 L942.2 351.2 L944.8 353.3 L944.8 357.1 L942.3 357.7 L942.1 359.5 L942.0 360.6 L944.1 364.6 L943.4 367.8 L940.8 366.2 L940.2 367.6 L939.9 368.4 L941.2 373.5 L939.8 375.6 L937.6 372.0 L936.8 372.8 L936.3 373.2 L936.5 378.6 L934.8 379.2 L933.3 374.3 L932.3 374.3 L931.8 374.2 L930.9 378.9 L929.1 378.0 L928.6 372.6 L927.7 371.8 L927.1 371.2 L925.3 374.5 L923.7 372.2 L924.3 367.2 L923.6 365.7 L923.2 364.8 L920.7 366.0 L919.6 362.7 L921.2 359.0 L920.8 357.1 L920.6 356.0 L917.9 355.0 L917.5 351.2 L919.8 349.5 L919.8 347.5 L919.8 346.4 L917.4 343.3 L917.8 339.7 L920.4 340.2 L920.7 338.6 L921.0 337.6 L919.3 333.0 L920.3 330.3 L922.8 332.9 L923.5 331.8 L923.9 331.2 L923.1 325.8 L924.7 324.4 L926.6 328.8 L927.5 328.4 L928.1 328.2 L928.4 323.0 L930.2 323.2 L931.2 328.5 L932.2 328.9 L932.7 329.2 L934.1 325.1 L935.9 326.8 L935.8 332.1 L936.6 333.3 L937.1 334.0 L939.3 331.8 L940.7 334.7 L939.6 339.1 L940.1 340.8 L940.5 341.8 L943.1 341.7 L943.9 345.4 L941.8 348.1Z"/>
<path fill="#fff" d="M940.4 350.4 L940.5 351.6 L943.0 353.7 L943.1 357.4 L940.6 358.1 L940.4 359.9 L940.3 361.0 L942.4 364.9 L941.7 368.1 L939.0 366.5 L938.5 367.9 L938.2 368.7 L939.4 373.9 L938.1 376.0 L935.9 372.4 L935.1 373.2 L934.6 373.5 L934.8 379.0 L933.0 379.6 L931.6 374.7 L930.6 374.6 L930.1 374.6 L929.2 379.3 L927.3 378.4 L926.9 372.9 L926.0 372.1 L925.4 371.6 L923.6 374.8 L922.0 372.5 L922.6 367.5 L921.9 366.1 L921.5 365.2 L919.0 366.4 L917.9 363.0 L919.5 359.3 L919.1 357.5 L918.9 356.4 L916.2 355.3 L915.8 351.6 L918.1 349.8 L918.1 347.9 L918.1 346.8 L915.7 343.6 L916.0 340.1 L918.7 340.6 L919.0 338.9 L919.3 338.0 L917.5 333.3 L918.6 330.6 L921.1 333.3 L921.8 332.2 L922.2 331.6 L921.4 326.2 L923.0 324.8 L924.9 329.1 L925.8 328.7 L926.3 328.6 L926.7 323.4 L928.5 323.5 L929.5 328.8 L930.5 329.3 L931.0 329.6 L932.4 325.5 L934.2 327.2 L934.1 332.5 L934.9 333.6 L935.4 334.4 L937.6 332.1 L939.0 335.0 L937.8 339.4 L938.4 341.1 L938.8 342.2 L941.4 342.1 L942.1 345.7 L940.1 348.5Z"/>
<path fill="#fff" d="M938.7 350.8 L938.8 351.9 L941.3 354.1 L941.4 357.8 L938.8 358.4 L938.7 360.3 L938.6 361.3 L940.7 365.3 L940.0 368.5 L937.3 366.9 L936.8 368.3 L936.5 369.1 L937.7 374.2 L936.4 376.3 L934.1 372.8 L933.4 373.5 L932.9 373.9 L933.1 379.3 L931.3 380.0 L929.8 375.0 L928.9 375.0 L928.3 374.9 L927.5 379.7 L925.6 378.7 L925.2 373.3 L924.2 372.5 L923.7 371.9 L921.9 375.2 L920.3 372.9 L920.9 367.9 L920.2 366.4 L919.7 365.5 L917.3 366.7 L916.2 363.4 L917.8 359.7 L917.4 357.9 L917.2 356.7 L914.5 355.7 L914.1 351.9 L916.4 350.2 L916.4 348.3 L916.4 347.1 L914.0 344.0 L914.3 340.5 L917.0 341.0 L917.3 339.3 L917.5 338.3 L915.8 333.7 L916.9 331.0 L919.4 333.6 L920.0 332.5 L920.5 331.9 L919.7 326.5 L921.3 325.1 L923.2 329.5 L924.1 329.1 L924.6 328.9 L925.0 323.8 L926.8 323.9 L927.8 329.2 L928.7 329.6 L929.3 330.0 L930.7 325.9 L932.4 327.5 L932.4 332.8 L933.2 334.0 L933.7 334.8 L935.9 332.5 L937.3 335.4 L936.1 339.8 L936.7 341.5 L937.0 342.5 L939.6 342.4 L940.4 346.1 L938.4 348.8Z"/>
<path fill="#fff" d="M936.9 351.1 L937.0 352.3 L939.6 354.4 L939.7 358.1 L937.1 358.8 L937.0 360.6 L936.8 361.7 L938.9 365.7 L938.2 368.9 L935.6 367.2 L935.1 368.7 L934.8 369.5 L936.0 374.6 L934.7 376.7 L932.4 373.1 L931.6 373.9 L931.1 374.3 L931.4 379.7 L929.6 380.3 L928.1 375.4 L927.2 375.4 L926.6 375.3 L925.7 380.0 L923.9 379.1 L923.4 373.7 L922.5 372.9 L922.0 372.3 L920.2 375.6 L918.6 373.2 L919.2 368.2 L918.4 366.8 L918.0 365.9 L915.6 367.1 L914.5 363.7 L916.1 360.1 L915.7 358.2 L915.4 357.1 L912.8 356.0 L912.4 352.3 L914.7 350.5 L914.7 348.6 L914.7 347.5 L912.3 344.4 L912.6 340.8 L915.3 341.3 L915.6 339.7 L915.8 338.7 L914.1 334.0 L915.2 331.3 L917.7 334.0 L918.3 332.9 L918.8 332.3 L918.0 326.9 L919.6 325.5 L921.5 329.8 L922.4 329.5 L922.9 329.3 L923.3 324.1 L925.1 324.3 L926.1 329.6 L927.0 330.0 L927.6 330.3 L929.0 326.2 L930.7 327.9 L930.7 333.2 L931.5 334.4 L932.0 335.1 L934.2 332.8 L935.6 335.7 L934.4 340.2 L935.0 341.8 L935.3 342.9 L937.9 342.8 L938.7 346.4 L936.7 349.2Z"/>
<path fill="#fff" d="M935.2 351.5 L935.3 352.6 L937.9 354.8 L937.9 358.5 L935.4 359.1 L935.3 361.0 L935.1 362.0 L937.2 366.0 L936.5 369.2 L933.9 367.6 L933.4 369.0 L933.0 369.8 L934.3 374.9 L933.0 377.1 L930.7 373.5 L929.9 374.2 L929.4 374.6 L929.6 380.0 L927.9 380.7 L926.4 375.7 L925.5 375.7 L924.9 375.6 L924.0 380.4 L922.2 379.4 L921.7 374.0 L920.8 373.2 L920.3 372.7 L918.5 375.9 L916.8 373.6 L917.5 368.6 L916.7 367.1 L916.3 366.2 L913.9 367.4 L912.8 364.1 L914.4 360.4 L913.9 358.6 L913.7 357.4 L911.1 356.4 L910.7 352.6 L913.0 350.9 L912.9 349.0 L913.0 347.8 L910.6 344.7 L910.9 341.2 L913.5 341.7 L913.9 340.0 L914.1 339.1 L912.4 334.4 L913.4 331.7 L915.9 334.4 L916.6 333.2 L917.0 332.6 L916.3 327.2 L917.9 325.8 L919.8 330.2 L920.7 329.8 L921.2 329.7 L921.5 324.5 L923.4 324.6 L924.4 329.9 L925.3 330.3 L925.9 330.7 L927.3 326.6 L929.0 328.2 L928.9 333.6 L929.8 334.7 L930.3 335.5 L932.4 333.2 L933.8 336.1 L932.7 340.5 L933.3 342.2 L933.6 343.2 L936.2 343.2 L937.0 346.8 L935.0 349.6Z"/>
<path fill="#fff" d="M933.5 351.8 L933.6 353.0 L936.2 355.1 L936.2 358.9 L933.7 359.5 L933.5 361.3 L933.4 362.4 L935.5 366.4 L934.8 369.6 L932.2 368.0 L931.7 369.4 L931.3 370.2 L932.6 375.3 L931.3 377.4 L929.0 373.8 L928.2 374.6 L927.7 375.0 L927.9 380.4 L926.2 381.0 L924.7 376.1 L923.8 376.1 L923.2 376.0 L922.3 380.7 L920.5 379.8 L920.0 374.4 L919.1 373.6 L918.6 373.0 L916.7 376.3 L915.1 373.9 L915.8 369.0 L915.0 367.5 L914.6 366.6 L912.2 367.8 L911.0 364.5 L912.7 360.8 L912.2 358.9 L912.0 357.8 L909.4 356.8 L908.9 353.0 L911.3 351.3 L911.2 349.3 L911.2 348.2 L908.8 345.1 L909.2 341.5 L911.8 342.0 L912.2 340.4 L912.4 339.4 L910.7 334.8 L911.7 332.1 L914.2 334.7 L914.9 333.6 L915.3 333.0 L914.6 327.6 L916.1 326.2 L918.1 330.5 L918.9 330.2 L919.5 330.0 L919.8 324.8 L921.6 325.0 L922.7 330.3 L923.6 330.7 L924.2 331.0 L925.5 326.9 L927.3 328.6 L927.2 333.9 L928.1 335.1 L928.5 335.8 L930.7 333.5 L932.1 336.4 L931.0 340.9 L931.6 342.6 L931.9 343.6 L934.5 343.5 L935.3 347.1 L933.3 349.9Z"/>
<path fill="#fff" d="M931.8 352.2 L931.9 353.4 L934.5 355.5 L934.5 359.2 L932.0 359.9 L931.8 361.7 L931.7 362.8 L933.8 366.7 L933.1 369.9 L930.5 368.3 L930.0 369.7 L929.6 370.5 L930.9 375.7 L929.5 377.8 L927.3 374.2 L926.5 374.9 L926.0 375.3 L926.2 380.7 L924.5 381.4 L923.0 376.5 L922.0 376.4 L921.5 376.3 L920.6 381.1 L918.8 380.2 L918.3 374.7 L917.4 373.9 L916.8 373.4 L915.0 376.6 L913.4 374.3 L914.0 369.3 L913.3 367.9 L912.9 366.9 L910.4 368.2 L909.3 364.8 L910.9 361.1 L910.5 359.3 L910.3 358.2 L907.7 357.1 L907.2 353.4 L909.6 351.6 L909.5 349.7 L909.5 348.5 L907.1 345.4 L907.5 341.9 L910.1 342.4 L910.5 340.7 L910.7 339.8 L909.0 335.1 L910.0 332.4 L912.5 335.1 L913.2 333.9 L913.6 333.3 L912.9 328.0 L914.4 326.6 L916.3 330.9 L917.2 330.5 L917.8 330.4 L918.1 325.2 L919.9 325.3 L920.9 330.6 L921.9 331.1 L922.4 331.4 L923.8 327.3 L925.6 329.0 L925.5 334.3 L926.3 335.4 L926.8 336.2 L929.0 333.9 L930.4 336.8 L929.3 341.2 L929.9 342.9 L930.2 344.0 L932.8 343.9 L933.6 347.5 L931.6 350.3Z"/>
<path fill="#fff" d="M930.1 352.6 L930.2 353.7 L932.8 355.8 L932.8 359.6 L930.3 360.2 L930.1 362.0 L930.0 363.1 L932.1 367.1 L931.4 370.3 L928.8 368.7 L928.2 370.1 L927.9 370.9 L929.2 376.0 L927.8 378.1 L925.6 374.5 L924.8 375.3 L924.3 375.7 L924.5 381.1 L922.8 381.7 L921.3 376.8 L920.3 376.8 L919.8 376.7 L918.9 381.4 L917.1 380.5 L916.6 375.1 L915.7 374.3 L915.1 373.7 L913.3 377.0 L911.7 374.7 L912.3 369.7 L911.6 368.2 L911.2 367.3 L908.7 368.5 L907.6 365.2 L909.2 361.5 L908.8 359.6 L908.6 358.5 L905.9 357.5 L905.5 353.7 L907.8 352.0 L907.8 350.0 L907.8 348.9 L905.4 345.8 L905.8 342.2 L908.4 342.7 L908.7 341.1 L909.0 340.1 L907.3 335.5 L908.3 332.8 L910.8 335.4 L911.5 334.3 L911.9 333.7 L911.1 328.3 L912.7 326.9 L914.6 331.3 L915.5 330.9 L916.1 330.7 L916.4 325.5 L918.2 325.7 L919.2 331.0 L920.2 331.4 L920.7 331.7 L922.1 327.6 L923.9 329.3 L923.8 334.6 L924.6 335.8 L925.1 336.5 L927.3 334.3 L928.7 337.2 L927.6 341.6 L928.1 343.3 L928.5 344.3 L931.1 344.2 L931.9 347.9 L929.8 350.6Z"/>
<path fill="#fff" d="M928.4 352.9 L928.5 354.1 L931.0 356.2 L931.1 359.9 L928.6 360.6 L928.4 362.4 L928.3 363.5 L930.4 367.4 L929.7 370.6 L927.0 369.0 L926.5 370.4 L926.2 371.2 L927.4 376.4 L926.1 378.5 L923.9 374.9 L923.1 375.7 L922.6 376.0 L922.8 381.5 L921.0 382.1 L919.6 377.2 L918.6 377.1 L918.1 377.1 L917.2 381.8 L915.3 380.9 L914.9 375.4 L914.0 374.6 L913.4 374.1 L911.6 377.3 L910.0 375.0 L910.6 370.0 L909.9 368.6 L909.5 367.7 L907.0 368.9 L905.9 365.5 L907.5 361.8 L907.1 360.0 L906.9 358.9 L904.2 357.8 L903.8 354.1 L906.1 352.3 L906.1 350.4 L906.1 349.3 L903.7 346.1 L904.0 342.6 L906.7 343.1 L907.0 341.4 L907.3 340.5 L905.5 335.8 L906.6 333.1 L909.1 335.8 L909.8 334.7 L910.2 334.1 L909.4 328.7 L911.0 327.3 L912.9 331.6 L913.8 331.2 L914.3 331.1 L914.7 325.9 L916.5 326.0 L917.5 331.3 L918.5 331.8 L919.0 332.1 L920.4 328.0 L922.2 329.7 L922.1 335.0 L922.9 336.1 L923.4 336.9 L925.6 334.6 L927.0 337.5 L925.8 341.9 L926.4 343.6 L926.8 344.7 L929.4 344.6 L930.1 348.2 L928.1 351.0Z"/>
<path fill="#fff" d="M926.7 353.3 L926.8 354.4 L929.3 356.6 L929.4 360.3 L926.8 360.9 L926.7 362.8 L926.6 363.8 L928.7 367.8 L928.0 371.0 L925.3 369.4 L924.8 370.8 L924.5 371.6 L925.7 376.7 L924.4 378.8 L922.1 375.3 L921.4 376.0 L920.9 376.4 L921.1 381.8 L919.3 382.5 L917.8 377.5 L916.9 377.5 L916.3 377.4 L915.5 382.2 L913.6 381.2 L913.2 375.8 L912.2 375.0 L911.7 374.4 L909.9 377.7 L908.3 375.4 L908.9 370.4 L908.2 368.9 L907.7 368.0 L905.3 369.2 L904.2 365.9 L905.8 362.2 L905.4 360.4 L905.2 359.2 L902.5 358.2 L902.1 354.4 L904.4 352.7 L904.4 350.8 L904.4 349.6 L902.0 346.5 L902.3 343.0 L905.0 343.5 L905.3 341.8 L905.5 340.8 L903.8 336.2 L904.9 333.5 L907.4 336.1 L908.0 335.0 L908.5 334.4 L907.7 329.0 L909.3 327.6 L911.2 332.0 L912.1 331.6 L912.6 331.4 L913.0 326.3 L914.8 326.4 L915.8 331.7 L916.7 332.1 L917.3 332.5 L918.7 328.4 L920.4 330.0 L920.4 335.3 L921.2 336.5 L921.7 337.3 L923.9 335.0 L925.3 337.9 L924.1 342.3 L924.7 344.0 L925.0 345.0 L927.6 344.9 L928.4 348.6 L926.4 351.3Z"/>
<path fill="#fff" d="M924.9 353.6 L925.0 354.8 L927.6 356.9 L927.7 360.6 L925.1 361.3 L925.0 363.1 L924.8 364.2 L926.9 368.2 L926.2 371.4 L923.6 369.7 L923.1 371.2 L922.8 372.0 L924.0 377.1 L922.7 379.2 L920.4 375.6 L919.6 376.4 L919.1 376.8 L919.4 382.2 L917.6 382.8 L916.1 377.9 L915.2 377.9 L914.6 377.8 L913.7 382.5 L911.9 381.6 L911.4 376.2 L910.5 375.4 L910.0 374.8 L908.2 378.1 L906.6 375.7 L907.2 370.7 L906.4 369.3 L906.0 368.4 L903.6 369.6 L902.5 366.2 L904.1 362.6 L903.7 360.7 L903.4 359.6 L900.8 358.5 L900.4 354.8 L902.7 353.0 L902.7 351.1 L902.7 350.0 L900.3 346.9 L900.6 343.3 L903.3 343.8 L903.6 342.2 L903.8 341.2 L902.1 336.5 L903.2 333.8 L905.7 336.5 L906.3 335.4 L906.8 334.8 L906.0 329.4 L907.6 328.0 L909.5 332.3 L910.4 332.0 L910.9 331.8 L911.3 326.6 L913.1 326.8 L914.1 332.1 L915.0 332.5 L915.6 332.8 L917.0 328.7 L918.7 330.4 L918.7 335.7 L919.5 336.9 L920.0 337.6 L922.2 335.3 L923.6 338.2 L922.4 342.7 L923.0 344.3 L923.3 345.4 L925.9 345.3 L926.7 348.9 L924.7 351.7Z"/>
<path fill="#fff" d="M923.2 354.0 L923.3 355.1 L925.9 357.3 L925.9 361.0 L923.4 361.6 L923.3 363.5 L923.1 364.5 L925.2 368.5 L924.5 371.7 L921.9 370.1 L921.4 371.5 L921.0 372.3 L922.3 377.4 L921.0 379.6 L918.7 376.0 L917.9 376.7 L917.4 377.1 L917.6 382.5 L915.9 383.2 L914.4 378.2 L913.5 378.2 L912.9 378.1 L912.0 382.9 L910.2 381.9 L909.7 376.5 L908.8 375.7 L908.3 375.2 L906.5 378.4 L904.8 376.1 L905.5 371.1 L904.7 369.6 L904.3 368.7 L901.9 369.9 L900.8 366.6 L902.4 362.9 L901.9 361.1 L901.7 359.9 L899.1 358.9 L898.7 355.1 L901.0 353.4 L900.9 351.5 L901.0 350.3 L898.6 347.2 L898.9 343.7 L901.5 344.2 L901.9 342.5 L902.1 341.6 L900.4 336.9 L901.4 334.2 L903.9 336.9 L904.6 335.7 L905.0 335.1 L904.3 329.7 L905.9 328.3 L907.8 332.7 L908.7 332.3 L909.2 332.2 L909.5 327.0 L911.4 327.1 L912.4 332.4 L913.3 332.8 L913.9 333.2 L915.3 329.1 L917.0 330.7 L916.9 336.1 L917.8 337.2 L918.3 338.0 L920.4 335.7 L921.8 338.6 L920.7 343.0 L921.3 344.7 L921.6 345.7 L924.2 345.7 L925.0 349.3 L923.0 352.1Z"/>
<path class="l" style="stroke-width:2.0" d="M924.2 357.6L948.2 352.6M924.2 361.4L948.2 356.4M923.5 368.9L947.5 363.9M922.8 372.1L946.8 367.1M920.6 377.8L944.6 372.8M919.3 379.9L943.3 374.9M915.9 382.9L939.9 377.9M914.2 383.5L938.2 378.5M907.8 327.3L931.8 322.3M909.6 327.5L933.6 322.5M913.5 329.4L937.5 324.4M915.3 331.1L939.3 326.1M918.7 336.0L942.7 331.0M920.1 338.9L944.1 333.9M922.5 346.0L946.5 341.0M923.3 349.6L947.3 344.6"/>
<path class="w" style="stroke-width:1.55" d="M921.5 354.3 L921.6 355.5 L924.2 357.6 L924.2 361.4 L921.7 362.0 L921.5 363.8 L921.4 364.9 L923.5 368.9 L922.8 372.1 L920.2 370.5 L919.7 371.9 L919.3 372.7 L920.6 377.8 L919.3 379.9 L917.0 376.3 L916.2 377.1 L915.7 377.5 L915.9 382.9 L914.2 383.5 L912.7 378.6 L911.8 378.6 L911.2 378.5 L910.3 383.2 L908.5 382.3 L908.0 376.9 L907.1 376.1 L906.6 375.5 L904.7 378.8 L903.1 376.4 L903.8 371.5 L903.0 370.0 L902.6 369.1 L900.2 370.3 L899.0 367.0 L900.7 363.3 L900.2 361.4 L900.0 360.3 L897.4 359.3 L896.9 355.5 L899.3 353.8 L899.2 351.8 L899.2 350.7 L896.8 347.6 L897.2 344.0 L899.8 344.5 L900.2 342.9 L900.4 341.9 L898.7 337.3 L899.7 334.6 L902.2 337.2 L902.9 336.1 L903.3 335.5 L902.6 330.1 L904.1 328.7 L906.1 333.0 L906.9 332.7 L907.5 332.5 L907.8 327.3 L909.6 327.5 L910.7 332.8 L911.6 333.2 L912.2 333.5 L913.5 329.4 L915.3 331.1 L915.2 336.4 L916.1 337.6 L916.5 338.3 L918.7 336.0 L920.1 338.9 L919.0 343.4 L919.6 345.1 L919.9 346.1 L922.5 346.0 L923.3 349.6 L921.3 352.4Z"/>
<ellipse class="l" style="stroke-width:1.55" cx="914.0" cy="355.5"  rx="8.5" ry="13.0" transform="rotate(-10 914.0 355.5)"/>
<ellipse class="l" style="stroke-width:1.55" cx="914.5" cy="355.5"  rx="4.0" ry="6.9" transform="rotate(-10 914.0 355.5)"/>
<path class="w" style="stroke-width:1.55" d="M972.8 432.8 L972.9 434.0 L975.5 436.1 L975.5 439.9 L972.9 440.5 L972.8 442.4 L972.6 443.5 L974.8 447.4 L974.1 450.7 L971.4 449.0 L970.8 450.5 L970.5 451.3 L971.8 456.5 L970.4 458.6 L968.1 455.0 L967.3 455.7 L966.8 456.1 L967.0 461.6 L965.2 462.2 L963.7 457.3 L962.8 457.2 L962.2 457.1 L961.3 461.9 L959.4 461.0 L958.9 455.5 L958.0 454.7 L957.4 454.2 L955.6 457.4 L953.9 455.1 L954.6 450.1 L953.8 448.6 L953.4 447.7 L950.9 448.9 L949.8 445.6 L951.4 441.9 L951.0 440.0 L950.8 438.9 L948.1 437.8 L947.6 434.0 L950.0 432.3 L950.0 430.3 L950.0 429.2 L947.6 426.0 L947.9 422.5 L950.6 423.0 L951.0 421.3 L951.2 420.3 L949.5 415.6 L950.5 412.9 L953.1 415.6 L953.8 414.5 L954.2 413.9 L953.4 408.4 L955.0 407.0 L957.0 411.4 L957.9 411.0 L958.4 410.9 L958.8 405.6 L960.7 405.8 L961.7 411.1 L962.7 411.5 L963.2 411.9 L964.6 407.7 L966.4 409.4 L966.4 414.8 L967.2 415.9 L967.7 416.7 L969.9 414.4 L971.4 417.3 L970.2 421.8 L970.8 423.5 L971.1 424.5 L973.8 424.4 L974.6 428.1 L972.5 430.9Z"/>
<path fill="#fff" d="M971.0 433.2 L971.1 434.3 L973.8 436.5 L973.8 440.2 L971.2 440.9 L971.1 442.7 L970.9 443.8 L973.1 447.8 L972.3 451.0 L969.7 449.4 L969.1 450.8 L968.8 451.6 L970.1 456.8 L968.7 458.9 L966.4 455.3 L965.6 456.1 L965.1 456.5 L965.3 461.9 L963.5 462.6 L962.0 457.6 L961.0 457.6 L960.5 457.5 L959.6 462.3 L957.7 461.4 L957.2 455.9 L956.3 455.1 L955.7 454.5 L953.9 457.8 L952.2 455.5 L952.9 450.4 L952.1 449.0 L951.7 448.0 L949.2 449.3 L948.1 445.9 L949.7 442.2 L949.3 440.3 L949.1 439.2 L946.4 438.2 L945.9 434.4 L948.3 432.6 L948.3 430.7 L948.3 429.5 L945.8 426.4 L946.2 422.8 L948.9 423.3 L949.2 421.7 L949.5 420.7 L947.7 416.0 L948.8 413.3 L951.4 415.9 L952.0 414.8 L952.5 414.2 L951.7 408.8 L953.3 407.4 L955.3 411.7 L956.2 411.4 L956.7 411.2 L957.1 406.0 L959.0 406.1 L960.0 411.5 L960.9 411.9 L961.5 412.2 L962.9 408.1 L964.7 409.8 L964.6 415.1 L965.5 416.3 L966.0 417.1 L968.2 414.7 L969.7 417.7 L968.5 422.1 L969.1 423.8 L969.4 424.9 L972.1 424.8 L972.9 428.4 L970.8 431.2Z"/>
<path fill="#fff" d="M969.3 433.5 L969.4 434.7 L972.1 436.8 L972.1 440.6 L969.5 441.2 L969.3 443.1 L969.2 444.2 L971.4 448.2 L970.6 451.4 L967.9 449.8 L967.4 451.2 L967.1 452.0 L968.4 457.2 L967.0 459.3 L964.7 455.7 L963.9 456.5 L963.4 456.8 L963.6 462.3 L961.8 462.9 L960.3 458.0 L959.3 458.0 L958.7 457.9 L957.8 462.6 L956.0 461.7 L955.5 456.2 L954.6 455.4 L954.0 454.9 L952.1 458.2 L950.5 455.8 L951.1 450.8 L950.4 449.3 L950.0 448.4 L947.5 449.6 L946.3 446.3 L948.0 442.6 L947.6 440.7 L947.3 439.6 L944.6 438.5 L944.2 434.7 L946.6 433.0 L946.6 431.0 L946.6 429.9 L944.1 426.8 L944.5 423.2 L947.2 423.7 L947.5 422.0 L947.8 421.0 L946.0 416.4 L947.1 413.6 L949.6 416.3 L950.3 415.2 L950.8 414.6 L950.0 409.1 L951.6 407.7 L953.6 412.1 L954.5 411.7 L955.0 411.6 L955.4 406.3 L957.2 406.5 L958.3 411.8 L959.2 412.2 L959.8 412.6 L961.2 408.5 L963.0 410.1 L962.9 415.5 L963.8 416.7 L964.3 417.4 L966.5 415.1 L967.9 418.0 L966.8 422.5 L967.4 424.2 L967.7 425.2 L970.3 425.1 L971.2 428.8 L969.1 431.6Z"/>
<path fill="#fff" d="M967.6 433.9 L967.7 435.1 L970.3 437.2 L970.4 441.0 L967.8 441.6 L967.6 443.4 L967.5 444.5 L969.6 448.5 L968.9 451.7 L966.2 450.1 L965.7 451.6 L965.4 452.4 L966.6 457.5 L965.3 459.6 L963.0 456.0 L962.2 456.8 L961.7 457.2 L961.9 462.6 L960.1 463.3 L958.6 458.3 L957.6 458.3 L957.0 458.2 L956.1 463.0 L954.2 462.1 L953.8 456.6 L952.8 455.8 L952.3 455.2 L950.4 458.5 L948.8 456.2 L949.4 451.2 L948.7 449.7 L948.3 448.8 L945.8 450.0 L944.6 446.6 L946.3 442.9 L945.9 441.1 L945.6 439.9 L942.9 438.9 L942.5 435.1 L944.9 433.3 L944.8 431.4 L944.9 430.2 L942.4 427.1 L942.8 423.5 L945.5 424.0 L945.8 422.4 L946.1 421.4 L944.3 416.7 L945.4 414.0 L947.9 416.7 L948.6 415.5 L949.1 414.9 L948.3 409.5 L949.9 408.1 L951.8 412.5 L952.8 412.1 L953.3 411.9 L953.7 406.7 L955.5 406.8 L956.5 412.2 L957.5 412.6 L958.1 412.9 L959.5 408.8 L961.3 410.5 L961.2 415.8 L962.1 417.0 L962.6 417.8 L964.8 415.5 L966.2 418.4 L965.0 422.8 L965.6 424.5 L966.0 425.6 L968.6 425.5 L969.4 429.2 L967.4 431.9Z"/>
<path fill="#fff" d="M965.9 434.2 L966.0 435.4 L968.6 437.5 L968.7 441.3 L966.1 442.0 L965.9 443.8 L965.8 444.9 L967.9 448.9 L967.2 452.1 L964.5 450.5 L964.0 451.9 L963.6 452.7 L964.9 457.9 L963.6 460.0 L961.3 456.4 L960.4 457.2 L959.9 457.6 L960.1 463.0 L958.4 463.7 L956.8 458.7 L955.9 458.7 L955.3 458.6 L954.4 463.4 L952.5 462.4 L952.1 457.0 L951.1 456.1 L950.6 455.6 L948.7 458.9 L947.1 456.5 L947.7 451.5 L947.0 450.0 L946.6 449.1 L944.1 450.3 L942.9 447.0 L944.6 443.3 L944.1 441.4 L943.9 440.3 L941.2 439.2 L940.8 435.4 L943.2 433.7 L943.1 431.8 L943.1 430.6 L940.7 427.5 L941.1 423.9 L943.8 424.4 L944.1 422.7 L944.3 421.8 L942.6 417.1 L943.7 414.3 L946.2 417.0 L946.9 415.9 L947.3 415.3 L946.6 409.9 L948.2 408.4 L950.1 412.8 L951.0 412.4 L951.6 412.3 L952.0 407.1 L953.8 407.2 L954.8 412.5 L955.8 413.0 L956.4 413.3 L957.8 409.2 L959.6 410.8 L959.5 416.2 L960.4 417.4 L960.9 418.1 L963.1 415.8 L964.5 418.7 L963.3 423.2 L963.9 424.9 L964.3 426.0 L966.9 425.9 L967.7 429.5 L965.7 432.3Z"/>
<path fill="#fff" d="M964.2 434.6 L964.3 435.8 L966.9 437.9 L967.0 441.7 L964.4 442.3 L964.2 444.2 L964.1 445.2 L966.2 449.2 L965.5 452.5 L962.8 450.8 L962.3 452.3 L961.9 453.1 L963.2 458.2 L961.8 460.4 L959.5 456.8 L958.7 457.5 L958.2 457.9 L958.4 463.4 L956.7 464.0 L955.1 459.0 L954.2 459.0 L953.6 458.9 L952.7 463.7 L950.8 462.8 L950.3 457.3 L949.4 456.5 L948.9 455.9 L947.0 459.2 L945.4 456.9 L946.0 451.9 L945.3 450.4 L944.8 449.5 L942.3 450.7 L941.2 447.3 L942.9 443.6 L942.4 441.8 L942.2 440.6 L939.5 439.6 L939.1 435.8 L941.5 434.0 L941.4 432.1 L941.4 431.0 L939.0 427.8 L939.3 424.3 L942.0 424.8 L942.4 423.1 L942.6 422.1 L940.9 417.4 L942.0 414.7 L944.5 417.4 L945.2 416.2 L945.6 415.6 L944.9 410.2 L946.5 408.8 L948.4 413.2 L949.3 412.8 L949.9 412.6 L950.2 407.4 L952.1 407.6 L953.1 412.9 L954.1 413.3 L954.7 413.6 L956.1 409.5 L957.9 411.2 L957.8 416.6 L958.6 417.7 L959.1 418.5 L961.4 416.2 L962.8 419.1 L961.6 423.6 L962.2 425.3 L962.5 426.3 L965.2 426.2 L966.0 429.9 L963.9 432.7Z"/>
<path fill="#fff" d="M962.5 435.0 L962.6 436.1 L965.2 438.3 L965.2 442.0 L962.6 442.7 L962.5 444.5 L962.4 445.6 L964.5 449.6 L963.8 452.8 L961.1 451.2 L960.6 452.6 L960.2 453.4 L961.5 458.6 L960.1 460.7 L957.8 457.1 L957.0 457.9 L956.5 458.3 L956.7 463.7 L954.9 464.4 L953.4 459.4 L952.5 459.4 L951.9 459.3 L951.0 464.1 L949.1 463.1 L948.6 457.7 L947.7 456.9 L947.2 456.3 L945.3 459.6 L943.6 457.2 L944.3 452.2 L943.5 450.8 L943.1 449.8 L940.6 451.1 L939.5 447.7 L941.1 444.0 L940.7 442.1 L940.5 441.0 L937.8 440.0 L937.4 436.2 L939.7 434.4 L939.7 432.5 L939.7 431.3 L937.3 428.2 L937.6 424.6 L940.3 425.1 L940.7 423.4 L940.9 422.5 L939.2 417.8 L940.2 415.1 L942.8 417.7 L943.5 416.6 L943.9 416.0 L943.1 410.6 L944.8 409.2 L946.7 413.5 L947.6 413.2 L948.2 413.0 L948.5 407.8 L950.4 407.9 L951.4 413.2 L952.4 413.7 L952.9 414.0 L954.4 409.9 L956.2 411.6 L956.1 416.9 L956.9 418.1 L957.4 418.8 L959.7 416.5 L961.1 419.4 L959.9 423.9 L960.5 425.6 L960.8 426.7 L963.5 426.6 L964.3 430.2 L962.2 433.0Z"/>
<path fill="#fff" d="M960.8 435.3 L960.9 436.5 L963.5 438.6 L963.5 442.4 L960.9 443.0 L960.8 444.9 L960.6 446.0 L962.8 449.9 L962.1 453.2 L959.4 451.5 L958.8 453.0 L958.5 453.8 L959.8 459.0 L958.4 461.1 L956.1 457.5 L955.3 458.2 L954.8 458.6 L955.0 464.1 L953.2 464.7 L951.7 459.8 L950.8 459.7 L950.2 459.6 L949.3 464.4 L947.4 463.5 L946.9 458.0 L946.0 457.2 L945.4 456.7 L943.6 459.9 L941.9 457.6 L942.6 452.6 L941.8 451.1 L941.4 450.2 L938.9 451.4 L937.8 448.1 L939.4 444.4 L939.0 442.5 L938.8 441.4 L936.1 440.3 L935.6 436.5 L938.0 434.8 L938.0 432.8 L938.0 431.7 L935.6 428.5 L935.9 425.0 L938.6 425.5 L939.0 423.8 L939.2 422.8 L937.5 418.1 L938.5 415.4 L941.1 418.1 L941.8 417.0 L942.2 416.4 L941.4 410.9 L943.0 409.5 L945.0 413.9 L945.9 413.5 L946.4 413.4 L946.8 408.1 L948.7 408.3 L949.7 413.6 L950.7 414.0 L951.2 414.4 L952.6 410.2 L954.4 411.9 L954.4 417.3 L955.2 418.4 L955.7 419.2 L957.9 416.9 L959.4 419.8 L958.2 424.3 L958.8 426.0 L959.1 427.0 L961.8 426.9 L962.6 430.6 L960.5 433.4Z"/>
<path fill="#fff" d="M959.0 435.7 L959.1 436.8 L961.8 439.0 L961.8 442.7 L959.2 443.4 L959.1 445.2 L958.9 446.3 L961.1 450.3 L960.3 453.5 L957.7 451.9 L957.1 453.3 L956.8 454.1 L958.1 459.3 L956.7 461.4 L954.4 457.8 L953.6 458.6 L953.1 459.0 L953.3 464.4 L951.5 465.1 L950.0 460.1 L949.0 460.1 L948.5 460.0 L947.6 464.8 L945.7 463.9 L945.2 458.4 L944.3 457.6 L943.7 457.0 L941.9 460.3 L940.2 458.0 L940.9 452.9 L940.1 451.5 L939.7 450.5 L937.2 451.8 L936.1 448.4 L937.7 444.7 L937.3 442.8 L937.1 441.7 L934.4 440.7 L933.9 436.9 L936.3 435.1 L936.3 433.2 L936.3 432.0 L933.8 428.9 L934.2 425.3 L936.9 425.8 L937.2 424.2 L937.5 423.2 L935.7 418.5 L936.8 415.8 L939.4 418.4 L940.0 417.3 L940.5 416.7 L939.7 411.3 L941.3 409.9 L943.3 414.2 L944.2 413.9 L944.7 413.7 L945.1 408.5 L947.0 408.6 L948.0 414.0 L948.9 414.4 L949.5 414.7 L950.9 410.6 L952.7 412.3 L952.6 417.6 L953.5 418.8 L954.0 419.6 L956.2 417.2 L957.7 420.2 L956.5 424.6 L957.1 426.3 L957.4 427.4 L960.1 427.3 L960.9 430.9 L958.8 433.7Z"/>
<path fill="#fff" d="M957.3 436.0 L957.4 437.2 L960.1 439.3 L960.1 443.1 L957.5 443.7 L957.3 445.6 L957.2 446.7 L959.4 450.7 L958.6 453.9 L955.9 452.3 L955.4 453.7 L955.1 454.5 L956.4 459.7 L955.0 461.8 L952.7 458.2 L951.9 459.0 L951.4 459.3 L951.6 464.8 L949.8 465.4 L948.3 460.5 L947.3 460.5 L946.7 460.4 L945.8 465.1 L944.0 464.2 L943.5 458.7 L942.6 457.9 L942.0 457.4 L940.1 460.7 L938.5 458.3 L939.1 453.3 L938.4 451.8 L938.0 450.9 L935.5 452.1 L934.3 448.8 L936.0 445.1 L935.6 443.2 L935.3 442.1 L932.6 441.0 L932.2 437.2 L934.6 435.5 L934.6 433.5 L934.6 432.4 L932.1 429.3 L932.5 425.7 L935.2 426.2 L935.5 424.5 L935.8 423.5 L934.0 418.9 L935.1 416.1 L937.6 418.8 L938.3 417.7 L938.8 417.1 L938.0 411.6 L939.6 410.2 L941.6 414.6 L942.5 414.2 L943.0 414.1 L943.4 408.8 L945.2 409.0 L946.3 414.3 L947.2 414.7 L947.8 415.1 L949.2 411.0 L951.0 412.6 L950.9 418.0 L951.8 419.2 L952.3 419.9 L954.5 417.6 L955.9 420.5 L954.8 425.0 L955.4 426.7 L955.7 427.7 L958.3 427.6 L959.2 431.3 L957.1 434.1Z"/>
<path fill="#fff" d="M955.6 436.4 L955.7 437.6 L958.3 439.7 L958.4 443.5 L955.8 444.1 L955.6 445.9 L955.5 447.0 L957.6 451.0 L956.9 454.2 L954.2 452.6 L953.7 454.1 L953.4 454.9 L954.6 460.0 L953.3 462.1 L951.0 458.5 L950.2 459.3 L949.7 459.7 L949.9 465.1 L948.1 465.8 L946.6 460.8 L945.6 460.8 L945.0 460.7 L944.1 465.5 L942.2 464.6 L941.8 459.1 L940.8 458.3 L940.3 457.7 L938.4 461.0 L936.8 458.7 L937.4 453.7 L936.7 452.2 L936.3 451.3 L933.8 452.5 L932.6 449.1 L934.3 445.4 L933.9 443.6 L933.6 442.4 L930.9 441.4 L930.5 437.6 L932.9 435.8 L932.8 433.9 L932.9 432.7 L930.4 429.6 L930.8 426.0 L933.5 426.5 L933.8 424.9 L934.1 423.9 L932.3 419.2 L933.4 416.5 L935.9 419.2 L936.6 418.0 L937.1 417.4 L936.3 412.0 L937.9 410.6 L939.8 415.0 L940.8 414.6 L941.3 414.4 L941.7 409.2 L943.5 409.3 L944.5 414.7 L945.5 415.1 L946.1 415.4 L947.5 411.3 L949.3 413.0 L949.2 418.3 L950.1 419.5 L950.6 420.3 L952.8 418.0 L954.2 420.9 L953.0 425.3 L953.6 427.0 L954.0 428.1 L956.6 428.0 L957.4 431.7 L955.4 434.4Z"/>
<path fill="#fff" d="M953.9 436.7 L954.0 437.9 L956.6 440.0 L956.7 443.8 L954.1 444.5 L953.9 446.3 L953.8 447.4 L955.9 451.4 L955.2 454.6 L952.5 453.0 L952.0 454.4 L951.6 455.2 L952.9 460.4 L951.6 462.5 L949.3 458.9 L948.4 459.7 L947.9 460.1 L948.1 465.5 L946.4 466.2 L944.8 461.2 L943.9 461.2 L943.3 461.1 L942.4 465.9 L940.5 464.9 L940.1 459.5 L939.1 458.6 L938.6 458.1 L936.7 461.4 L935.1 459.0 L935.7 454.0 L935.0 452.5 L934.6 451.6 L932.1 452.8 L930.9 449.5 L932.6 445.8 L932.1 443.9 L931.9 442.8 L929.2 441.7 L928.8 437.9 L931.2 436.2 L931.1 434.3 L931.1 433.1 L928.7 430.0 L929.1 426.4 L931.8 426.9 L932.1 425.2 L932.3 424.3 L930.6 419.6 L931.7 416.8 L934.2 419.5 L934.9 418.4 L935.3 417.8 L934.6 412.4 L936.2 410.9 L938.1 415.3 L939.0 414.9 L939.6 414.8 L940.0 409.6 L941.8 409.7 L942.8 415.0 L943.8 415.5 L944.4 415.8 L945.8 411.7 L947.6 413.3 L947.5 418.7 L948.4 419.9 L948.9 420.6 L951.1 418.3 L952.5 421.2 L951.3 425.7 L951.9 427.4 L952.3 428.5 L954.9 428.4 L955.7 432.0 L953.7 434.8Z"/>
<path fill="#fff" d="M952.2 437.1 L952.3 438.3 L954.9 440.4 L955.0 444.2 L952.4 444.8 L952.2 446.7 L952.1 447.7 L954.2 451.7 L953.5 455.0 L950.8 453.3 L950.3 454.8 L949.9 455.6 L951.2 460.7 L949.8 462.9 L947.5 459.3 L946.7 460.0 L946.2 460.4 L946.4 465.9 L944.7 466.5 L943.1 461.5 L942.2 461.5 L941.6 461.4 L940.7 466.2 L938.8 465.3 L938.3 459.8 L937.4 459.0 L936.9 458.4 L935.0 461.7 L933.4 459.4 L934.0 454.4 L933.3 452.9 L932.8 452.0 L930.3 453.2 L929.2 449.8 L930.9 446.1 L930.4 444.3 L930.2 443.1 L927.5 442.1 L927.1 438.3 L929.5 436.5 L929.4 434.6 L929.4 433.5 L927.0 430.3 L927.3 426.8 L930.0 427.3 L930.4 425.6 L930.6 424.6 L928.9 419.9 L930.0 417.2 L932.5 419.9 L933.2 418.7 L933.6 418.1 L932.9 412.7 L934.5 411.3 L936.4 415.7 L937.3 415.3 L937.9 415.1 L938.2 409.9 L940.1 410.1 L941.1 415.4 L942.1 415.8 L942.7 416.1 L944.1 412.0 L945.9 413.7 L945.8 419.1 L946.6 420.2 L947.1 421.0 L949.4 418.7 L950.8 421.6 L949.6 426.1 L950.2 427.8 L950.5 428.8 L953.2 428.7 L954.0 432.4 L951.9 435.2Z"/>
<path fill="#fff" d="M950.5 437.5 L950.6 438.6 L953.2 440.8 L953.2 444.5 L950.6 445.2 L950.5 447.0 L950.4 448.1 L952.5 452.1 L951.8 455.3 L949.1 453.7 L948.6 455.1 L948.2 455.9 L949.5 461.1 L948.1 463.2 L945.8 459.6 L945.0 460.4 L944.5 460.8 L944.7 466.2 L942.9 466.9 L941.4 461.9 L940.5 461.9 L939.9 461.8 L939.0 466.6 L937.1 465.6 L936.6 460.2 L935.7 459.4 L935.2 458.8 L933.3 462.1 L931.6 459.7 L932.3 454.7 L931.5 453.3 L931.1 452.3 L928.6 453.6 L927.5 450.2 L929.1 446.5 L928.7 444.6 L928.5 443.5 L925.8 442.5 L925.4 438.7 L927.7 436.9 L927.7 435.0 L927.7 433.8 L925.3 430.7 L925.6 427.1 L928.3 427.6 L928.7 425.9 L928.9 425.0 L927.2 420.3 L928.2 417.6 L930.8 420.2 L931.5 419.1 L931.9 418.5 L931.1 413.1 L932.8 411.7 L934.7 416.0 L935.6 415.7 L936.2 415.5 L936.5 410.3 L938.4 410.4 L939.4 415.7 L940.4 416.2 L940.9 416.5 L942.4 412.4 L944.2 414.1 L944.1 419.4 L944.9 420.6 L945.4 421.3 L947.7 419.0 L949.1 421.9 L947.9 426.4 L948.5 428.1 L948.8 429.2 L951.5 429.1 L952.3 432.7 L950.2 435.5Z"/>
<path class="l" style="stroke-width:2.0" d="M951.5 441.1L975.5 436.1M951.5 444.9L975.5 439.9M950.8 452.4L974.8 447.4M950.1 455.7L974.1 450.7M947.8 461.5L971.8 456.5M946.4 463.6L970.4 458.6M943.0 466.6L967.0 461.6M941.2 467.2L965.2 462.2M934.8 410.6L958.8 405.6M936.7 410.8L960.7 405.8M940.6 412.7L964.6 407.7M942.4 414.4L966.4 409.4M945.9 419.4L969.9 414.4M947.4 422.3L971.4 417.3M949.8 429.4L973.8 424.4M950.6 433.1L974.6 428.1"/>
<path class="w" style="stroke-width:1.55" d="M948.8 437.8 L948.9 439.0 L951.5 441.1 L951.5 444.9 L948.9 445.5 L948.8 447.4 L948.6 448.5 L950.8 452.4 L950.1 455.7 L947.4 454.0 L946.8 455.5 L946.5 456.3 L947.8 461.5 L946.4 463.6 L944.1 460.0 L943.3 460.7 L942.8 461.1 L943.0 466.6 L941.2 467.2 L939.7 462.3 L938.8 462.2 L938.2 462.1 L937.3 466.9 L935.4 466.0 L934.9 460.5 L934.0 459.7 L933.4 459.2 L931.6 462.4 L929.9 460.1 L930.6 455.1 L929.8 453.6 L929.4 452.7 L926.9 453.9 L925.8 450.6 L927.4 446.9 L927.0 445.0 L926.8 443.9 L924.1 442.8 L923.6 439.0 L926.0 437.3 L926.0 435.3 L926.0 434.2 L923.6 431.0 L923.9 427.5 L926.6 428.0 L927.0 426.3 L927.2 425.3 L925.5 420.6 L926.5 417.9 L929.1 420.6 L929.8 419.5 L930.2 418.9 L929.4 413.4 L931.0 412.0 L933.0 416.4 L933.9 416.0 L934.4 415.9 L934.8 410.6 L936.7 410.8 L937.7 416.1 L938.7 416.5 L939.2 416.9 L940.6 412.7 L942.4 414.4 L942.4 419.8 L943.2 420.9 L943.7 421.7 L945.9 419.4 L947.4 422.3 L946.2 426.8 L946.8 428.5 L947.1 429.5 L949.8 429.4 L950.6 433.1 L948.5 435.9Z"/>
<ellipse class="l" style="stroke-width:1.55" cx="941.0" cy="439.0"  rx="8.7" ry="13.1" transform="rotate(-10 941.0 439.0)"/>
<ellipse class="l" style="stroke-width:1.55" cx="941.5" cy="439.0"  rx="4.1" ry="7.0" transform="rotate(-10 941.0 439.0)"/>
</g>
<!-- 40_housing.svg -->
<g id="housing">
<path class="w" d="M990 188.3 L1005.5 184.6 C1009 178 1010 168 1012.8 163.7 C1017 158 1022 157 1025.5 157.3 C1033 157 1040 158 1044 158.2 C1043 150 1044 140 1045.5 138.2 C1047 133 1050 130 1052.8 129.1 L1109.2 115.5 C1113 115 1116 116 1118.3 117.3 L1190 176 C1200 185 1207 191 1212.1 198.1 C1220 208 1225 215 1228.1 220.1 C1233 228 1237 236 1240.1 244.1 C1245 255 1249 265 1252.2 276.2 C1256 290 1258 305 1260.2 320 C1263 335 1268 348 1270.2 360 C1273 375 1275 388 1275.2 400.1 C1276 410 1276 420 1274.2 426.1 C1272 433 1268 438 1264.2 440.2 L1230.1 449.2 C1222 450 1215 448 1212.1 444.2 C1207 440 1205 434 1204.1 428.1 L1190.1 422.1 L1158.1 409.1 L1054.6 436.5 C1050 436 1044 433 1041.9 430.2 C1040 427 1038 424 1036.4 422.9 C1030 420 1024 417 1020 413.8 C1012 406 1006 399 1001.9 392 C995 380 990 370 987.3 359.2 C984 348 982 338 981.8 330 C981 320 981 313 980 308.2 C976 300 973 296 972.7 291.9 L972.7 275.5 C974 271 976 269 978.2 268.2 C984 267 989 266 992.8 264.6 C998 262 1003 259 1005 255 C998 240 993 220 991.8 209.2 Z"/>
<path class="l" d="M1001.9 245.6 C1006 255 1010 261 1014.6 263.8 C1022 271 1030 276 1036.4 277.4 C1043 278 1050 278 1056.5 277.4 L1069.2 274.7
M1041.9 159.1 C1048 161 1053 164 1056.5 167.3 C1061 172 1064 177 1065.5 181.9 C1067 188 1067.5 194 1067.4 199.2
M1067.4 209.2 C1065 215 1062 222 1061.9 227.4 C1061.5 232 1062 236 1062.8 238.3 C1065 243 1067 246 1070.1 249.2
M1019 176.4 C1024 174 1029 173 1032.8 173.7 C1040 176 1045 180 1047.3 185.5 C1051 195 1052.5 205 1052.8 214.6
M998.2 193.7 C1001 194 1003 193 1004.6 192.8
M1054.6 152.8 C1057 147 1060 145 1062 145.5 C1067 147 1071 152 1072 158.2
M1062 129 C1066 130 1070 133 1072 135.5
M1052.8 164.6 L1094.7 153.7 C1100 155 1104 158 1105.6 163.7 C1108 168 1108.5 172 1108.3 176.4 C1108 183 1107 189 1106.5 194.6 C1108 200 1111 204 1114.7 207.4 C1117 212 1119 218 1119.2 223.7 C1119.5 230 1118 235 1116.5 240.1 C1114 247 1112 253 1111 260.1
M1070.1 202.8 L1100.1 195.5
M1105.6 218.3 C1105 222 1104.5 225 1103.8 227.4 C1100 233 1096 238 1091 242
M1083.7 257.5 L1076.5 298
M1114.7 260.1 L1212.1 234.1 C1216 233.5 1220 234.5 1222 236
M1086.5 299.5 L1204.1 268.2
M1222 236 C1232 250 1242 272 1247 300 C1251 330 1254 360 1254.2 388
M1217.1 250.2 C1219 265 1221 280 1225 300 C1231 330 1237 370 1240.1 406
M1258 380 C1260 392 1260 405 1258.2 418
M1176 295.5 L1222 356 C1225 360 1227 363 1228 366 C1232 380 1236 395 1240 408
M1180.1 313 L1190.1 346.1 C1195 353 1200 357 1204.1 362.1 C1206 367 1207.5 371 1208.1 375.1
M1080 409 L1199 378
M1180.1 384.1 C1178 392 1174 398 1170.1 403.1
M1204.1 428 C1203 418 1203 410 1204.1 404.1 C1206 396 1210 391 1214.1 389.1 C1218 387 1221 386.5 1224.1 387.1 C1227 389 1229 391 1230.1 394.1
M1214.1 410.1 C1216 406 1218 404 1220.1 404.1 C1226 406 1230 412 1230.1 416.1 C1231 422 1230.5 426 1230.1 428.1 C1227 432 1223 434 1220.1 433.2
M1241 431 C1240 438 1238 444 1234 448
M1005.5 260 C1000 264 995 268 991 273.7 C987 282 984 288 982.7 295.5 C982.5 305 982.5 315 982.7 322.8
M1056.5 277.3 C1064 290 1072 300 1076.5 310 C1081 325 1084 338 1084.7 350 C1085 362 1083 373 1080.1 384.7 C1076 396 1072 404 1067.4 410.1 C1061 416 1053 419 1045.5 419.2 C1037 419 1030 416 1023.7 412 C1016 406 1011 399 1007.3 392
M1006.4 276.4 C1002 286 998 295 996.4 304.6 C995.5 318 996 330 998.2 341 C1002 357 1008 370 1014.6 381 C1024 395 1037 404 1051 407.4
M979.5 279 C983 279 984.5 282 983.5 285 C982.5 287 980.5 288 979.5 287.5
M1085.5 393.5 C1089 393.5 1090.5 397 1089.5 400 C1088.5 402 1086.5 403 1085.5 402.5
M1093 388 C1095 395 1095 402 1094 406
"/>
</g>

<!-- 50_armature.svg -->
<g id="armature">
<path class="w" d="M1025 551 L1041.6 547.3 C1045 549 1047.5 552 1047.5 555.3 C1047.5 559 1047 562 1046 564.1 L1033 569.9 L1028 570 Z"/>
<path class="l" d="M1031 549.5 C1033 555 1033 562 1031.5 568.5"/>
<path class="w" d="M901.8 533.5 L967.4 514.6 C972 514 977 513.8 981.9 513.8 C987 513.8 992 514 996.5 514.6 C1002 518 1007 522 1011 526.2 C1016 532 1020 538 1022.7 543.7 C1026 550 1028.5 558 1030 565.5 C1031 573 1031.5 580 1031.4 587.4 C1031 596 1028 604 1025.6 610.7 C1022 615 1019 618 1015.4 620.9 C1012 623 1009 624.5 1006.7 625.2 L961.5 639.8 L923.7 647.1 L906.2 651.5 Z"/>
<clipPath id="drumclip"><path d="M901.8 533.5 L967.4 514.6 C972 514 977 513.8 981.9 513.8 C987 513.8 992 514 996.5 514.6 C1002 518 1007 522 1011 526.2 C1016 532 1020 538 1022.7 543.7 C1026 550 1028.5 558 1030 565.5 C1031 573 1031.5 580 1031.4 587.4 C1031 596 1028 604 1025.6 610.7 C1022 615 1019 618 1015.4 620.9 C1012 623 1009 624.5 1006.7 625.2 L961.5 639.8 L923.7 647.1 L906.2 651.5 Z"/></clipPath>
<path class="l" clip-path="url(#drumclip)" style="stroke-width:1.15" d="M896.5 533.4 L901.0 533.7 L905.5 534.6 L909.9 536.1 L914.3 538.0 L918.5 540.5 L922.6 543.4 L926.4 546.8 L930.1 550.6 L933.4 554.8 L936.5 559.4 L939.2 564.3 L941.6 569.4 L943.7 574.7 L945.3 580.2 L946.5 585.9 L947.3 591.6 L947.7 597.3 L947.6 602.9 L947.1 608.5 L946.2 613.9 L944.9 619.2 L943.1 624.1 L941.0 628.8 L938.5 633.2 L935.7 637.2 L932.5 640.8 L929.1 644.0 L925.4 646.6 L921.5 648.8 L917.3 650.5 M904.5 531.7 L909.0 532.0 L913.5 532.9 L917.9 534.3 L922.3 536.3 L926.5 538.8 L930.6 541.7 L934.4 545.1 L938.1 548.9 L941.4 553.1 L944.5 557.7 L947.2 562.5 L949.6 567.7 L951.7 573.0 L953.3 578.5 L954.5 584.1 L955.3 589.8 L955.7 595.5 L955.6 601.2 L955.1 606.8 L954.2 612.2 L952.9 617.4 L951.1 622.4 L949.0 627.1 L946.5 631.5 L943.7 635.5 L940.5 639.1 L937.1 642.2 L933.4 644.9 L929.5 647.1 L925.3 648.8 M911.5 530.2 L916.0 530.5 L920.5 531.4 L924.9 532.8 L929.3 534.8 L933.5 537.3 L937.6 540.2 L941.4 543.6 L945.1 547.4 L948.4 551.6 L951.5 556.2 L954.2 561.0 L956.6 566.2 L958.7 571.5 L960.3 577.0 L961.5 582.6 L962.3 588.3 L962.7 594.0 L962.6 599.7 L962.1 605.3 L961.2 610.7 L959.9 615.9 L958.1 620.9 L956.0 625.6 L953.5 630.0 L950.7 634.0 L947.5 637.6 L944.1 640.7 L940.4 643.4 L936.5 645.6 L932.3 647.3 M918.5 528.7 L923.0 529.0 L927.5 529.9 L931.9 531.3 L936.3 533.3 L940.5 535.7 L944.6 538.7 L948.4 542.1 L952.1 545.9 L955.4 550.1 L958.5 554.7 L961.2 559.5 L963.6 564.7 L965.7 570.0 L967.3 575.5 L968.5 581.1 L969.3 586.8 L969.7 592.5 L969.6 598.2 L969.1 603.8 L968.2 609.2 L966.9 614.4 L965.1 619.4 L963.0 624.1 L960.5 628.5 L957.7 632.5 L954.5 636.1 L951.1 639.2 L947.4 641.9 L943.5 644.1 L939.3 645.8 M924.5 527.4 L929.0 527.7 L933.5 528.6 L937.9 530.0 L942.3 532.0 L946.5 534.5 L950.6 537.4 L954.4 540.8 L958.1 544.6 L961.4 548.8 L964.5 553.4 L967.2 558.2 L969.6 563.4 L971.7 568.7 L973.3 574.2 L974.5 579.8 L975.3 585.5 L975.7 591.2 L975.6 596.9 L975.1 602.5 L974.2 607.9 L972.9 613.1 L971.1 618.1 L969.0 622.8 L966.5 627.2 L963.7 631.2 L960.5 634.8 L957.1 637.9 L953.4 640.6 L949.5 642.8 L945.3 644.5 M930.5 526.1 L935.0 526.4 L939.5 527.3 L943.9 528.8 L948.3 530.7 L952.5 533.2 L956.6 536.1 L960.4 539.5 L964.1 543.3 L967.4 547.5 L970.5 552.1 L973.2 556.9 L975.6 562.1 L977.7 567.4 L979.3 572.9 L980.5 578.6 L981.3 584.2 L981.7 590.0 L981.6 595.6 L981.1 601.2 L980.2 606.6 L978.9 611.8 L977.1 616.8 L975.0 621.5 L972.5 625.9 L969.7 629.9 L966.5 633.5 L963.1 636.6 L959.4 639.3 L955.5 641.5 L951.3 643.2 M935.5 525.0 L940.0 525.4 L944.5 526.3 L948.9 527.7 L953.3 529.6 L957.5 532.1 L961.6 535.0 L965.4 538.4 L969.1 542.2 L972.4 546.4 L975.5 551.0 L978.2 555.9 L980.6 561.0 L982.7 566.3 L984.3 571.9 L985.5 577.5 L986.3 583.2 L986.7 588.9 L986.6 594.5 L986.1 600.1 L985.2 605.5 L983.9 610.8 L982.1 615.8 L980.0 620.5 L977.5 624.8 L974.7 628.8 L971.5 632.4 L968.1 635.6 L964.4 638.3 L960.5 640.4 L956.3 642.1 M940.5 523.9 L945.0 524.3 L949.5 525.2 L953.9 526.6 L958.3 528.6 L962.5 531.0 L966.6 534.0 L970.4 537.3 L974.1 541.2 L977.4 545.4 L980.5 549.9 L983.2 554.8 L985.6 559.9 L987.7 565.3 L989.3 570.8 L990.5 576.4 L991.3 582.1 L991.7 587.8 L991.6 593.5 L991.1 599.0 L990.2 604.5 L988.9 609.7 L987.1 614.7 L985.0 619.4 L982.5 623.8 L979.7 627.8 L976.5 631.4 L973.1 634.5 L969.4 637.2 L965.5 639.4 L961.3 641.0 M945.0 523.0 L949.5 523.3 L954.0 524.2 L958.4 525.6 L962.8 527.6 L967.0 530.0 L971.1 533.0 L974.9 536.4 L978.6 540.2 L981.9 544.4 L985.0 549.0 L987.7 553.8 L990.1 559.0 L992.2 564.3 L993.8 569.8 L995.0 575.4 L995.8 581.1 L996.2 586.8 L996.1 592.5 L995.6 598.1 L994.7 603.5 L993.4 608.7 L991.6 613.7 L989.5 618.4 L987.0 622.8 L984.2 626.8 L981.0 630.4 L977.6 633.5 L973.9 636.2 L970.0 638.4 L965.8 640.1 M949.5 522.0 L954.0 522.4 L958.5 523.2 L962.9 524.7 L967.3 526.6 L971.5 529.1 L975.6 532.0 L979.4 535.4 L983.1 539.2 L986.4 543.4 L989.5 548.0 L992.2 552.9 L994.6 558.0 L996.7 563.3 L998.3 568.8 L999.5 574.5 L1000.3 580.2 L1000.7 585.9 L1000.6 591.5 L1000.1 597.1 L999.2 602.5 L997.9 607.8 L996.1 612.8 L994.0 617.5 L991.5 621.8 L988.7 625.8 L985.5 629.4 L982.1 632.6 L978.4 635.2 L974.5 637.4 L970.3 639.1 M953.5 521.1 L958.0 521.5 L962.5 522.4 L966.9 523.8 L971.3 525.8 L975.5 528.2 L979.6 531.2 L983.4 534.6 L987.1 538.4 L990.4 542.6 L993.5 547.1 L996.2 552.0 L998.6 557.1 L1000.7 562.5 L1002.3 568.0 L1003.5 573.6 L1004.3 579.3 L1004.7 585.0 L1004.6 590.7 L1004.1 596.2 L1003.2 601.7 L1001.9 606.9 L1000.1 611.9 L998.0 616.6 L995.5 621.0 L992.7 625.0 L989.5 628.6 L986.1 631.7 L982.4 634.4 L978.5 636.6 L974.3 638.2 M957.5 520.3 L962.0 520.6 L966.5 521.5 L970.9 523.0 L975.3 524.9 L979.5 527.4 L983.6 530.3 L987.4 533.7 L991.1 537.5 L994.4 541.7 L997.5 546.3 L1000.2 551.1 L1002.6 556.3 L1004.7 561.6 L1006.3 567.1 L1007.5 572.8 L1008.3 578.4 L1008.7 584.1 L1008.6 589.8 L1008.1 595.4 L1007.2 600.8 L1005.9 606.0 L1004.1 611.0 L1002.0 615.7 L999.5 620.1 L996.7 624.1 L993.5 627.7 L990.1 630.8 L986.4 633.5 L982.5 635.7 L978.3 637.4 M961.0 519.5 L965.5 519.9 L970.0 520.8 L974.4 522.2 L978.8 524.2 L983.0 526.6 L987.1 529.5 L990.9 532.9 L994.6 536.8 L997.9 541.0 L1001.0 545.5 L1003.7 550.4 L1006.1 555.5 L1008.2 560.9 L1009.8 566.4 L1011.0 572.0 L1011.8 577.7 L1012.2 583.4 L1012.1 589.1 L1011.6 594.6 L1010.7 600.1 L1009.4 605.3 L1007.6 610.3 L1005.5 615.0 L1003.0 619.4 L1000.2 623.4 L997.0 626.9 L993.6 630.1 L989.9 632.8 L986.0 635.0 L981.8 636.6 M964.5 518.8 L969.0 519.1 L973.5 520.0 L977.9 521.4 L982.3 523.4 L986.5 525.9 L990.6 528.8 L994.4 532.2 L998.1 536.0 L1001.4 540.2 L1004.5 544.8 L1007.2 549.6 L1009.6 554.8 L1011.7 560.1 L1013.3 565.6 L1014.5 571.2 L1015.3 576.9 L1015.7 582.6 L1015.6 588.3 L1015.1 593.9 L1014.2 599.3 L1012.9 604.5 L1011.1 609.5 L1009.0 614.2 L1006.5 618.6 L1003.7 622.6 L1000.5 626.2 L997.1 629.3 L993.4 632.0 L989.5 634.2 L985.3 635.9 M968.0 518.0 L972.5 518.4 L977.0 519.3 L981.4 520.7 L985.8 522.6 L990.0 525.1 L994.1 528.0 L997.9 531.4 L1001.6 535.3 L1004.9 539.5 L1008.0 544.0 L1010.7 548.9 L1013.1 554.0 L1015.2 559.4 L1016.8 564.9 L1018.0 570.5 L1018.8 576.2 L1019.2 581.9 L1019.1 587.6 L1018.6 593.1 L1017.7 598.5 L1016.4 603.8 L1014.6 608.8 L1012.5 613.5 L1010.0 617.8 L1007.2 621.8 L1004.0 625.4 L1000.6 628.6 L996.9 631.3 L993.0 633.5 L988.8 635.1 M971.5 517.3 L976.0 517.6 L980.5 518.5 L984.9 519.9 L989.3 521.9 L993.5 524.4 L997.6 527.3 L1001.4 530.7 L1005.1 534.5 L1008.4 538.7 L1011.5 543.3 L1014.2 548.1 L1016.6 553.3 L1018.7 558.6 L1020.3 564.1 L1021.5 569.7 L1022.3 575.4 L1022.7 581.1 L1022.6 586.8 L1022.1 592.4 L1021.2 597.8 L1019.9 603.0 L1018.1 608.0 L1016.0 612.7 L1013.5 617.1 L1010.7 621.1 L1007.5 624.7 L1004.1 627.8 L1000.4 630.5 L996.5 632.7 L992.3 634.4 M974.5 516.6 L979.0 517.0 L983.5 517.9 L987.9 519.3 L992.3 521.3 L996.5 523.7 L1000.6 526.6 L1004.4 530.0 L1008.1 533.9 L1011.4 538.1 L1014.5 542.6 L1017.2 547.5 L1019.6 552.6 L1021.7 558.0 L1023.3 563.5 L1024.5 569.1 L1025.3 574.8 L1025.7 580.5 L1025.6 586.2 L1025.1 591.7 L1024.2 597.2 L1022.9 602.4 L1021.1 607.4 L1019.0 612.1 L1016.5 616.4 L1013.7 620.4 L1010.5 624.0 L1007.1 627.2 L1003.4 629.9 L999.5 632.1 L995.3 633.7 M977.5 516.0 L982.0 516.3 L986.5 517.2 L990.9 518.7 L995.3 520.6 L999.5 523.1 L1003.6 526.0 L1007.4 529.4 L1011.1 533.2 L1014.4 537.4 L1017.5 542.0 L1020.2 546.8 L1022.6 552.0 L1024.7 557.3 L1026.3 562.8 L1027.5 568.5 L1028.3 574.1 L1028.7 579.8 L1028.6 585.5 L1028.1 591.1 L1027.2 596.5 L1025.9 601.7 L1024.1 606.7 L1022.0 611.4 L1019.5 615.8 L1016.7 619.8 L1013.5 623.4 L1010.1 626.5 L1006.4 629.2 L1002.5 631.4 L998.3 633.1 M980.5 515.3 L985.0 515.7 L989.5 516.6 L993.9 518.0 L998.3 520.0 L1002.5 522.4 L1006.6 525.4 L1010.4 528.7 L1014.1 532.6 L1017.4 536.8 L1020.5 541.3 L1023.2 546.2 L1025.6 551.3 L1027.7 556.7 L1029.3 562.2 L1030.5 567.8 L1031.3 573.5 L1031.7 579.2 L1031.6 584.9 L1031.1 590.4 L1030.2 595.9 L1028.9 601.1 L1027.1 606.1 L1025.0 610.8 L1022.5 615.2 L1019.7 619.2 L1016.5 622.8 L1013.1 625.9 L1009.4 628.6 L1005.5 630.8 L1001.3 632.4 M983.5 514.7 L988.0 515.0 L992.5 515.9 L996.9 517.4 L1001.3 519.3 L1005.5 521.8 L1009.6 524.7 L1013.4 528.1 L1017.1 531.9 L1020.4 536.1 L1023.5 540.7 L1026.2 545.5 L1028.6 550.7 L1030.7 556.0 L1032.3 561.5 L1033.5 567.2 L1034.3 572.9 L1034.7 578.6 L1034.6 584.2 L1034.1 589.8 L1033.2 595.2 L1031.9 600.4 L1030.1 605.4 L1028.0 610.1 L1025.5 614.5 L1022.7 618.5 L1019.5 622.1 L1016.1 625.3 L1012.4 627.9 L1008.5 630.1 L1004.3 631.8"/>
<path class="l" d="M996.5 514.6 C1008 528 1016 546 1019 566 C1021 586 1017 606 1006.7 625.2"/>
<path class="w" d="M912 529 C900 530 885 534 874 543.9 C866 551 862 560 862 572 L866 620 C872 633 880 641 888 646 C896 651 905 652 912 651 L937 645.2 C945 640 950 630 951.5 620 C953 605 951 590 944.6 576.4 C939 560 930 545 912 529 Z"/>
<path class="l" d="M935 553 C938 556 939 560 939.5 563 M940 620 C938 632 934 640 927 646"/>
<path class="w" d="M862.3 568.2 L889.6 560.9 C894 561.5 896.5 562.5 898.7 563.6 C903 567 906 571 907.8 575.5 C911 581 913 586 914.2 591 C915 596 915.3 601 915.1 606.4 C915 612 914 618 912.3 622.8 C910 627 907 630 904.2 631.9 L882.3 637.4 L866 640 Z"/>
<path class="l" d="M867.5 570.5 L889.6 563.6 M873 575 L896 568.2 M878.5 580 L904 574 M882 589 L909.5 582.5 M885.5 599 L911.5 592.5 M886.5 610 L913.5 603.7 M885.5 620 L913.5 613.7 M883.5 626.5 L911.5 621 M881.5 632 L907.8 627"/>
<ellipse class="w" cx="862.5" cy="604.2" rx="22.2" ry="36" transform="rotate(-8 862.5 604.2)"/>
<ellipse class="l" cx="863" cy="604.2" rx="19" ry="32.8" transform="rotate(-8 863 604.2)"/>
<ellipse class="l" cx="860" cy="606" rx="14" ry="23" transform="rotate(-10 860 606)"/>
<path class="l" d="M853.2 595.5 L866 593.7 C869 598 870.5 606 869.6 613.7 L855 615.5 M859.6 584.6 L853.2 601 M859.6 617.3 L865 622.8"/>
<ellipse class="l" cx="850.8" cy="607.8" rx="2.8" ry="3.6" />
</g>
<!-- 60_yoke.svg -->
<g id="yoke">
<path class="w" d="M624.2 580.4 L752 547.2 C760 547 765 548 769.2 549.7 C778 556 785 562 791.3 569.3 C800 583 806 595 811 608.6 C816 622 820 637 820.8 652.9 C821 665 820 675 818.3 684.8 C815 695 810 703 803.6 709.4 C798 713 793 715 788.8 716.8 L668.4 746.3 L650 750 L600 700 Z"/>
<ellipse class="w" cx="638.8" cy="664.8" rx="50.5" ry="86" transform="rotate(-12 638.8 664.8)"/>
<path class="l" d="M659.7 600.8 L656.0 597.0 L652.3 593.7 L648.5 590.7 L644.6 588.3 L640.7 586.3 L636.8 584.9 L632.9 584.0 L629.0 583.5 L625.2 583.6 L621.5 584.3 L617.9 585.4 L614.4 587.0 L611.1 589.2 L608.0 591.8 L605.1 594.9 L602.4 598.4 L599.9 602.4 L597.7 606.7 L595.8 611.5 L594.1 616.5 L592.7 621.9 L591.6 627.6 L590.9 633.5 L590.4 639.6 L590.2 645.8 L590.4 652.2 L590.9 658.6 L591.6 665.1 L592.7 671.6 L594.1 678.1 L595.8 684.4 L597.7 690.7 L600.0 696.8 L602.4 702.6 L605.1 708.3 L608.1 713.6 L611.2 718.6 L614.5 723.3 L618.0 727.7 L621.6 731.6 L625.3 735.1 L629.1 738.1 L632.9 740.7 L636.8 742.8 L640.8 744.4 L644.7 745.4 L648.6 746.0 L652.4 746.0 L656.1 745.6 L659.7 744.6 L663.2 743.1 L666.6 741.1 L669.8 738.6 L672.7 735.6 L675.5 732.2 L678.0 728.4 L680.3 724.1 L682.3 719.5 L684.1 714.5 L685.5 709.2"/>
<ellipse class="l" cx="652" cy="661" rx="35" ry="74" transform="rotate(-14 652 661)"/>
<path class="l" d="M628.4 594.2 C626 603 625.5 612 625.8 621.9 C625.5 634 625.8 645 626.7 656.5 C628.5 670 632 683 637.1 694.5 C640 701 644 707 649.2 713.5 C653 719 657 724 661.3 729.1"/>
<path class="l" d="M637.1 604.6 L657.8 601.1 M631.9 613.2 L663 608 M630.1 623.6 L664.7 615 M628.5 598 L634 596 L637 604.6 L632 607 Z M631.9 668.6 L683.8 655.6 M633.6 676.3 L686.3 664.2 M635.3 682.4 L687.2 670.3 M640.5 693.6 L688 680.7 M625 673.8 L632 672.5 L633.6 684.1 L627 685.5 M631.9 687.6 L637.5 686.5 L638.8 698 L634 699.5 M659.5 715 L685.5 708.3 M659.5 715 L659.5 731 L668 735.5 M674.5 718 L674.5 734 M669.5 719.5 L669.5 728 M663 716 L663 729"/>
</g>
<!-- 70_brush.svg -->
<g id="brush">
<!-- wire -->
<path class="l" d="M500.2 627 C500 620 501 616 502.4 614.6 C504 610 506 608 509.7 605.8 C513 603 516 601 521 598.5 C524 596 526 593 527.5 590 M506.8 627 C506.5 621 507 618 508.2 616.7 C510 613 511 611 513.3 610.2 C516 608 519 607 522.8 605.8 C526 603 528 600 530.5 593"/>
<!-- brushes on right -->
<path class="w" d="M528 673 L543 670.5 C547 673 548.5 680 548 688 L547 697 L532 700 Z"/>
<path class="l" d="M532 676 C538 676 541 680 541 684 L534 688 M543 670.5 L539 683"/>
<path class="w" d="M534 733 L548 730 C550.5 735 551 745 550.7 752 L549 758.3 L537 760 Z"/>
<path class="l" d="M537 735 C542 738 544 742 543 746 L538 750"/>
<!-- plate -->
<path class="w" d="M459.8 651.5 L476.9 649.5 L478 641 L500.6 641 C503 645 506 648 508.5 650.2 C512 654 516 656 519.1 658.1 C523 667 527 674 529.6 681.8 C532 690 534.5 699 536.2 708.2 C537.5 717 537.8 726 537.5 734.6 C537 743 535 752 532.3 761 L515.1 763.5 L512.5 768.8 L503.3 768.8 L500.6 763.5 C492 761 484 757 476.9 753 C473 745 470 737 467.7 729.3 C463 720 459 714 455.8 708.2 C456 690 458 670 459.8 651.5 Z"/>
<path class="l" d="M503.5 644 C510 653 518 666 523.5 683 C528 702 530.5 726 529.6 747.7 L528.5 761.5"/>
<!-- top bar -->
<path class="w" d="M470.7 632.8 L500.9 624.7 L521.3 622.6 C523.5 623 525 624.5 525 626.2 L525 631.3 L520 634.5 L520 641 L511.9 643.5 L499.5 642.2 L490.8 641.5 L470.7 638.6 Z"/>
<path class="l" d="M481.3 630 L491.5 635.7 L525 627 M491.5 635.7 L490.8 641.5 M470.7 632.8 L481.3 630 M511.9 643.5 L511.9 650.2"/>
<!-- opening -->
<ellipse class="w" cx="494" cy="703" rx="22.4" ry="37" transform="rotate(-12 494 703)"/>
<ellipse class="l" cx="495" cy="703" rx="19.5" ry="34" transform="rotate(-12 495 703)"/>
<path class="w" d="M483.5 671 L494 668 L498.5 673 L498 688 L487.5 690 L483 685 Z"/>
<path class="l" d="M483.5 671 L489 675 L498.5 673 M489 675 L488 690"/>
<path class="w" d="M486 710 L499 706.5 L503.3 711 L503 730 L491 733 L486.5 728 Z"/>
<path class="l" d="M486 710 L491 714 L503.3 711 M491 714 L491 733"/>
<!-- small c marks -->
<path class="l" style="stroke-width:1.1" d="M476 661 C473.5 661.5 473 665.5 475.5 666 M502.5 662 C500 662.5 499.5 666.5 502 667 M467 708.5 C464.5 709 464 713 466.5 713.5 M524.5 715 C527 715.5 527 719.5 524.5 720 M484 742.5 C481.5 743 481 747 483.5 747.5 M521 748 C518.5 748.5 518 752.5 520.5 753 M488 645.5 C490.5 646 490.5 650 488 650.5 M503 757 C505.5 757.5 505.5 761.5 503 762"/>
</g>

<!-- 80_endframe.svg -->
<g id="endframe">
<path class="w" d="M308 666 L360 658 C362 654 364 651 366 650 C380 656 395 664 406 676 C415 686 422 698 426 710 C431 724 434 737 435 750 C436 765 435 782 433 796 L433 808 C432 814 430 817 428 818 L408 830 L382 823 L336 834 Z"/>
<path class="l" d="M364 658 C376 664 388 670 396 678 C405 690 410 702 414 714 C418 727 420 740 420 750 C420.5 765 420 778 418 790 L414 788
M368 653 C380 660 392 668 400 680 C406 688 410 697 413 705
M424 744 C425 752 425.5 760 425 768 C424.5 780 422 790 420 797"/>
<ellipse class="w" cx="323.5" cy="750" rx="50" ry="86" transform="rotate(-12 323.5 750)"/>
<ellipse class="l" cx="324.6" cy="749.5" rx="26.5" ry="42.5" transform="rotate(-10 324.6 749.5)"/>
<path class="l" d="M333.5 737 C330 728 322 725.5 314 730 C306 736 303 750 305 762 C308 772 316 777 322 776 C330 774 334 765 333.5 760"/>
<ellipse class="l" cx="307.5" cy="685" rx="2.6" ry="4.2"/>
<ellipse class="l" cx="343.5" cy="816" rx="2.6" ry="4.2"/>
<!-- terminal block -->
<path class="w" d="M399.8 792.1 L414 788.6 L418.8 798.7 L428.2 796.9 L433 804.6 L432.4 811.7 L418.8 828.2 L410.5 829.4 L402.8 831.8 L380.9 823.5 C385 820 388 816 391 811.7 Z"/>
<path class="l" d="M400.4 793.9 L419.4 810.5 L420 813.4 M421.7 810.5 L430.6 807.5 M408.1 828 L418.8 828.2"/>
<ellipse class="l" cx="405" cy="817" rx="13.5" ry="9.3" transform="rotate(22 405 817)"/>
<path class="l" d="M407.5 812.8 C410 813.5 412.5 814.5 413.6 816 C414.2 818 413 820 411.7 820.5 C410.5 820.8 409.8 819.8 409.3 818.8"/>
</g>

<g fill="#000"><text x="766.1" y="80.4" font-family="Liberation Serif" font-weight="normal" font-size="25.93" stroke="#000" stroke-width="0.6" textLength="58.3" lengthAdjust="spacingAndGlyphs">28100</text>
<text x="679.8" y="197.7" font-family="Liberation Serif" font-weight="normal" font-size="25.19" stroke="#000" stroke-width="0.6" textLength="59.1" lengthAdjust="spacingAndGlyphs">28150</text>
<text x="1060.3" y="482.2" font-family="Liberation Serif" font-weight="normal" font-size="26.37" stroke="#000" stroke-width="0.6" textLength="70.8" lengthAdjust="spacingAndGlyphs">28226B</text>
<text x="929.4" y="694.7" font-family="Liberation Serif" font-weight="normal" font-size="25.19" stroke="#000" stroke-width="0.6" textLength="58.1" lengthAdjust="spacingAndGlyphs">28160</text>
<text x="700.7" y="787.7" font-family="Liberation Serif" font-weight="normal" font-size="25.48" stroke="#000" stroke-width="0.6" textLength="58.3" lengthAdjust="spacingAndGlyphs">28120</text>
<text x="479.0" y="821.8" font-family="Liberation Serif" font-weight="normal" font-size="23.70" stroke="#000" stroke-width="0.6" textLength="58.3" lengthAdjust="spacingAndGlyphs">28140</text>
<text x="304.0" y="66.2" font-family="Liberation Serif" font-weight="normal" font-size="21.48" stroke="#000" stroke-width="0.6" textLength="113.8" lengthAdjust="spacingAndGlyphs">90179-08204</text>
<text x="304.0" y="87.5" font-family="Liberation Serif" font-weight="normal" font-size="21.33" stroke="#000" stroke-width="0.6" textLength="113.8" lengthAdjust="spacingAndGlyphs">90182-T0011</text>
<g transform="translate(267,53)"><path d="M0.5 0.5L14.5 13.5M14.5 0.5L0.5 13.5" stroke="#000" stroke-width="1.35" fill="none"/><rect x="6.1" y="0" width="2.8" height="2.8"/><rect x="6.1" y="11.2" width="2.8" height="2.8"/><rect x="0" y="5.6" width="2.8" height="2.8"/><rect x="12.2" y="5.6" width="2.8" height="2.8"/></g><text x="286.2" y="66.4" font-family="Liberation Sans" font-size="20.93" textLength="8.2" lengthAdjust="spacingAndGlyphs">3</text>
<g transform="translate(267,74.5)"><path d="M0.5 0.5L14.5 13.5M14.5 0.5L0.5 13.5" stroke="#000" stroke-width="1.35" fill="none"/><rect x="6.1" y="0" width="2.8" height="2.8"/><rect x="6.1" y="11.2" width="2.8" height="2.8"/><rect x="0" y="5.6" width="2.8" height="2.8"/><rect x="12.2" y="5.6" width="2.8" height="2.8"/></g><text x="285.8" y="87.7" font-family="Liberation Sans" font-size="20.93" textLength="9.2" lengthAdjust="spacingAndGlyphs">4</text>
<text x="1359.4" y="52.5" font-family="Liberation Serif" font-weight="normal" font-size="21.78" stroke="#000" stroke-width="0.6" textLength="113.4" lengthAdjust="spacingAndGlyphs">90105-T0081</text>
<text x="1050.2" y="1033.8" font-family="Liberation Serif" font-weight="normal" font-size="20.30" stroke="#000" stroke-width="0.6" textLength="112.0" lengthAdjust="spacingAndGlyphs">90105-T0081</text>
<text x="1050.2" y="1059.0" font-family="Liberation Serif" font-weight="normal" font-size="21.19" stroke="#000" stroke-width="0.6" textLength="112.0" lengthAdjust="spacingAndGlyphs">90105-T0082</text>
<g transform="translate(1017.5,1020.5)"><path d="M0.5 0.5L14.5 13.5M14.5 0.5L0.5 13.5" stroke="#000" stroke-width="1.35" fill="none"/><rect x="6.1" y="0" width="2.8" height="2.8"/><rect x="6.1" y="11.2" width="2.8" height="2.8"/><rect x="0" y="5.6" width="2.8" height="2.8"/><rect x="12.2" y="5.6" width="2.8" height="2.8"/></g><text x="1036.5" y="1034.0" font-family="Liberation Sans" font-size="18.90" textLength="6.5" lengthAdjust="spacingAndGlyphs">1</text>
<g transform="translate(1017.5,1045)"><path d="M0.5 0.5L14.5 13.5M14.5 0.5L0.5 13.5" stroke="#000" stroke-width="1.35" fill="none"/><rect x="6.1" y="0" width="2.8" height="2.8"/><rect x="6.1" y="11.2" width="2.8" height="2.8"/><rect x="0" y="5.6" width="2.8" height="2.8"/><rect x="12.2" y="5.6" width="2.8" height="2.8"/></g><text x="1036.5" y="1059.2" font-family="Liberation Sans" font-size="20.64" textLength="8.0" lengthAdjust="spacingAndGlyphs">2</text>
<text x="1295.1" y="993.8" font-family="Liberation Serif" font-weight="normal" font-size="22.22" stroke="#000" stroke-width="0.6" textLength="112.7" lengthAdjust="spacingAndGlyphs">90178-T0022</text>
<g transform="translate(1264,980.5)"><path d="M0.5 0.5L14.5 13.5M14.5 0.5L0.5 13.5" stroke="#000" stroke-width="1.35" fill="none"/><rect x="6.1" y="0" width="2.8" height="2.8"/><rect x="6.1" y="11.2" width="2.8" height="2.8"/><rect x="0" y="5.6" width="2.8" height="2.8"/><rect x="12.2" y="5.6" width="2.8" height="2.8"/></g><text x="1283.5" y="994.0" font-family="Liberation Sans" font-size="18.90" textLength="5.0" lengthAdjust="spacingAndGlyphs">1</text>
<text x="1511.4" y="1083.6" font-family="Liberation Mono" font-weight="normal" font-size="19.73" stroke="#000" stroke-width="0.2" textLength="65.7" lengthAdjust="spacingAndGlyphs">196033</text>
<g transform="translate(211,962.8)"><path d="M0.5 0.5L15.0 13.200000000000045M15.0 0.5L0.5 13.200000000000045" stroke="#000" stroke-width="1.35" fill="none"/><rect x="6.35" y="0" width="2.8" height="2.8"/><rect x="6.35" y="10.900000000000045" width="2.8" height="2.8"/><rect x="0" y="5.450000000000022" width="2.8" height="2.8"/><rect x="12.7" y="5.450000000000022" width="2.8" height="2.8"/></g><text x="228.5" y="975.5" font-family="Liberation Sans" font-size="19.19" textLength="53.3" lengthAdjust="spacingAndGlyphs">1 ATM</text>
<g transform="translate(211,986.5)"><path d="M0.5 0.5L15.0 13.200000000000045M15.0 0.5L0.5 13.200000000000045" stroke="#000" stroke-width="1.35" fill="none"/><rect x="6.35" y="0" width="2.8" height="2.8"/><rect x="6.35" y="10.900000000000045" width="2.8" height="2.8"/><rect x="0" y="5.450000000000022" width="2.8" height="2.8"/><rect x="12.7" y="5.450000000000022" width="2.8" height="2.8"/></g><text x="228.5" y="999.2" font-family="Liberation Sans" font-size="19.19" textLength="55.5" lengthAdjust="spacingAndGlyphs">2 MTM</text>
<g transform="translate(211,1012.1)"><path d="M0.5 0.5L15.0 13.999999999999886M15.0 0.5L0.5 13.999999999999886" stroke="#000" stroke-width="1.35" fill="none"/><rect x="6.35" y="0" width="2.8" height="2.8"/><rect x="6.35" y="11.699999999999886" width="2.8" height="2.8"/><rect x="0" y="5.849999999999943" width="2.8" height="2.8"/><rect x="12.7" y="5.849999999999943" width="2.8" height="2.8"/></g><text x="228.5" y="1025.6" font-family="Liberation Sans" font-size="20.35" textLength="234.4" lengthAdjust="spacingAndGlyphs">3 JAPAN SOURCED PARTS</text>
<g transform="translate(211,1035.8)"><path d="M0.5 0.5L15.0 13.200000000000045M15.0 0.5L0.5 13.200000000000045" stroke="#000" stroke-width="1.35" fill="none"/><rect x="6.35" y="0" width="2.8" height="2.8"/><rect x="6.35" y="10.900000000000045" width="2.8" height="2.8"/><rect x="0" y="5.450000000000022" width="2.8" height="2.8"/><rect x="12.7" y="5.450000000000022" width="2.8" height="2.8"/></g><text x="228.5" y="1048.5" font-family="Liberation Sans" font-size="19.19" textLength="235.3" lengthAdjust="spacingAndGlyphs">4 LOCAL SOURCED PARTS</text></g>
<g class="d"><path d="M493 66L547 49L547 320.8L616.4 302.7"/><path d="M620.4 335.8L581.2 345.9L581.2 565L544.1 573.7"/><path d="M1216.6 64L1190.8 72L1190.8 125.5L1162.6 136.2"/><path d="M1212.1 421.1L1177.6 430.2L1177.6 947.3L1149.2 956.2"/><path d="M1281.2 402.1L1307.5 396.1L1307.7 945.5L1336.5 936.3"/><path d="M218 711L235 707.1L307.1 687"/><path d="M235 707.1L271.1 837.1L340.1 817.1"/></g>
<g class="t"><path d="M793.5 86.4V100"/><path d="M709.5 202V236"/><path d="M420 72.5H457"/><path d="M1314 46.4H1356"/><path d="M1090.1 428.5V462"/><path d="M958 641.4V673.8"/><path d="M728.6 731.5V767.2"/><path d="M505.9 768.8V801.8"/><path d="M1106.9 974.6V1017.6"/><path d="M1351.4 943.8V978.5"/></g>
</svg>
</body></html>
